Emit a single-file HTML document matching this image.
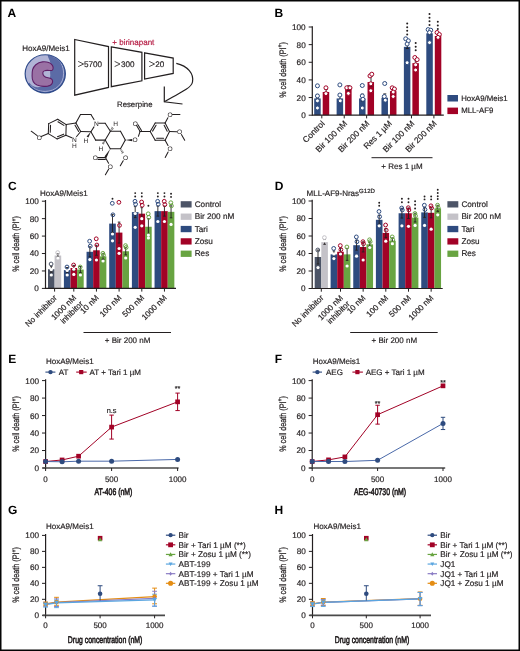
<!DOCTYPE html>
<html><head><meta charset="utf-8"><title>Figure</title>
<style>
html,body{margin:0;padding:0;background:#fff;width:520px;height:651px;overflow:hidden}
svg{display:block;will-change:transform}
text{font-family:"Liberation Sans",sans-serif;text-rendering:geometricPrecision}
</style></head><body>
<svg width="520" height="651" viewBox="0 0 520 651">
<rect x="0" y="0" width="520" height="651" fill="#fff"/>
<text x="7.6" y="16.5" font-size="12" text-anchor="start" fill="#000" font-weight="bold" >A</text>
<text x="22.2" y="51.3" font-size="8" text-anchor="start" fill="#231f20" font-weight="normal" stroke="#231f20" stroke-width="0.18" >HoxA9/Meis1</text>
<defs><clipPath id="cellclip"><ellipse cx="45.25" cy="73.8" rx="20.1" ry="19.05"/></clipPath></defs>
<g>
<ellipse cx="45.25" cy="73.8" rx="20.1" ry="19.05" fill="#b1b4d6"/>
<path clip-path="url(#cellclip)" d="M46.5,50 L48.1,56.9 C49.5,60 50.5,62 50.5,64 C50,68 50,72 50.3,75.5 C50,80 46,86.5 38,87.2 C34,87.5 31,85.5 29.2,82.6 L18,96 L75,96 L75,50 Z" fill="#5b6ba6"/>
<path clip-path="url(#cellclip)" d="M53,56.4 C60.5,59.5 63.6,66 63.6,73.8 C63.6,84 55.5,91.4 45.2,91.4 C38.5,91.4 33.5,89 30.5,85.2" fill="none" stroke="#c9cde9" stroke-width="0.7"/>
<ellipse cx="45.25" cy="73.8" rx="20.1" ry="19.05" fill="none" stroke="#2e4a8a" stroke-width="1.2"/>
<path d="M32.6,69.7 C33.5,66.5 37,62.3 42.4,61.9 C46,61.6 50,62.5 52,64.8 C53.5,66.5 53.5,69.5 52.2,70.2 C51,70.8 49.5,70.5 48,70.4 C45,70.2 42.8,71 42.8,73 C42.8,75.5 45,77.3 48,77.8 C50.5,78.2 52.5,79.2 52.6,81.2 C52.7,83.5 51,85.5 47.7,86.1 C44,86.6 40,86.3 37,85 C33.5,83.3 32,79.5 32.1,75.9 C32.1,73.5 32.2,71.2 32.6,69.7 Z" fill="#9a71a4" stroke="#5f1f67" stroke-width="1.1"/>
</g>
<g fill="none" stroke="#231f20" stroke-width="1.2">
<path d="M74.7,39.5 L108.5,46.6 L108.5,87.4 L74.7,95.2 Z"/>
<path d="M111.3,46.9 L141.9,52.3 L141.9,80.8 L111.3,86.7 Z"/>
<path d="M144.6,52.8 L173.2,58.1 L173.2,73.4 L144.6,79.1 Z"/>
<path d="M176.3,63.4 C188,66 194,74 192.5,82 C191.5,87 186,90 164.3,101.8"/>
<path d="M164.3,86.6 L164.3,101.8 L182.5,104"/>
</g>
<path d="M78.2,61.4 L83.6,64.0 L78.2,66.6" fill="none" stroke="#231f20" stroke-width="0.8"/>
<text x="84" y="66.9" font-size="8.1" text-anchor="start" fill="#231f20" font-weight="normal" stroke="#231f20" stroke-width="0.18" >5700</text>
<path d="M114.6,61.4 L120,64.0 L114.6,66.6" fill="none" stroke="#231f20" stroke-width="0.8"/>
<text x="120.9" y="66.9" font-size="8.1" text-anchor="start" fill="#231f20" font-weight="normal" stroke="#231f20" stroke-width="0.18" >300</text>
<path d="M149.2,61.4 L154.6,64.0 L149.2,66.6" fill="none" stroke="#231f20" stroke-width="0.8"/>
<text x="155.2" y="66.9" font-size="8.1" text-anchor="start" fill="#231f20" font-weight="normal" stroke="#231f20" stroke-width="0.18" >20</text>
<text x="112.3" y="45.2" font-size="8" text-anchor="start" fill="#b51a42" font-weight="normal" stroke="#b51a42" stroke-width="0.18" >+ birinapant</text>
<text x="117" y="106.9" font-size="7.8" text-anchor="start" fill="#231f20" font-weight="normal" stroke="#231f20" stroke-width="0.18" >Reserpine</text>
<g stroke="#231f20" stroke-width="1.05" stroke-linecap="round" fill="none"><line x1="57.7" y1="119.3" x2="66.2" y2="124.6"/><line x1="66.2" y1="124.6" x2="65.9" y2="135.3"/><line x1="65.9" y1="135.3" x2="57" y2="138.9"/><line x1="57" y1="138.9" x2="48.3" y2="133.6"/><line x1="48.3" y1="133.6" x2="48.7" y2="123.6"/><line x1="48.7" y1="123.6" x2="57.7" y2="119.3"/><line x1="57.94" y1="121.69" x2="63.89" y2="125.4"/><line x1="63.69" y1="134.15" x2="57.46" y2="136.67"/><line x1="50.26" y1="132.21" x2="50.54" y2="125.21"/><line x1="48.3" y1="133.6" x2="41.2" y2="136.4"/><line x1="37.2" y1="135.6" x2="31.2" y2="131.2"/><line x1="66.2" y1="124.6" x2="75.9" y2="123.1"/><line x1="75.9" y1="123.1" x2="80.7" y2="131.5"/><line x1="80.7" y1="131.5" x2="76.6" y2="136.5"/><line x1="65.9" y1="135.3" x2="71.8" y2="137.7"/><line x1="75" y1="125.14" x2="78.65" y2="131.52"/><line x1="75.9" y1="123.1" x2="80.5" y2="114.5"/><line x1="80.5" y1="114.5" x2="90.9" y2="114.5"/><line x1="90.9" y1="114.5" x2="94" y2="119.6"/><line x1="94" y1="126.9" x2="90.9" y2="131.7"/><line x1="90.9" y1="131.7" x2="80.7" y2="131.5"/><line x1="98.8" y1="123.2" x2="105.2" y2="123.2"/><line x1="105.2" y1="123.2" x2="110.4" y2="131.2"/><line x1="110.4" y1="131.2" x2="105.2" y2="140.1"/><line x1="105.2" y1="140.1" x2="95.6" y2="140.1"/><line x1="95.6" y1="140.1" x2="90.9" y2="131.7"/><line x1="110.4" y1="131.2" x2="120.5" y2="131.2"/><line x1="120.5" y1="131.2" x2="125.3" y2="140.1"/><line x1="125.3" y1="140.1" x2="120.5" y2="148.8"/><line x1="120.5" y1="148.8" x2="110.3" y2="148.8"/><line x1="110.3" y1="148.8" x2="105.2" y2="140.1"/><line x1="138.4" y1="136.3" x2="140.1" y2="131.4"/><line x1="140.1" y1="131.4" x2="136.6" y2="125.5"/><line x1="141.48" y1="130.58" x2="137.98" y2="124.68"/><line x1="140.1" y1="131.4" x2="150.2" y2="131.4"/><line x1="150.2" y1="131.4" x2="155.2" y2="123"/><line x1="155.2" y1="123" x2="165.1" y2="123"/><line x1="165.1" y1="123" x2="169.5" y2="131.6"/><line x1="169.5" y1="131.6" x2="165.1" y2="140.2"/><line x1="165.1" y1="140.2" x2="155.2" y2="140.2"/><line x1="155.2" y1="140.2" x2="150.2" y2="131.4"/><line x1="152.58" y1="131.12" x2="156.08" y2="125.24"/><line x1="164.12" y1="125.25" x2="167.2" y2="131.27"/><line x1="163.58" y1="138.3" x2="156.65" y2="138.3"/><line x1="165.1" y1="123" x2="167.9" y2="117.8"/><line x1="172.5" y1="114.5" x2="179.9" y2="114.5"/><line x1="169.5" y1="131.6" x2="176.8" y2="131.8"/><line x1="181.4" y1="134.6" x2="184.7" y2="140.3"/><line x1="165.1" y1="140.2" x2="168" y2="145.5"/><line x1="168.1" y1="152" x2="165.2" y2="157.4"/><line x1="105.4" y1="157.6" x2="97.9" y2="157.6"/><line x1="105.4" y1="159.4" x2="97.9" y2="159.4"/><line x1="105.4" y1="157.6" x2="108.6" y2="163.2"/><line x1="108.6" y1="169.3" x2="105.4" y2="174.7"/><line x1="123.2" y1="160.7" x2="120.3" y2="165.8"/></g>
<g fill="#231f20">
<path d="M90.9,131.7 L86.6,136.6 L88.4,137.6 Z"/>
<path d="M125.3,140.1 L132.2,139.0 L132.2,141.2 Z"/>
<path d="M110.3,148.8 L104.5,156.6 L106.4,157.9 Z"/>
</g>
<g stroke="#231f20" stroke-width="0.8">
<line x1="105.02" y1="141.58" x2="103.93" y2="140.87"/>
<line x1="104.51" y1="142.84" x2="102.99" y2="141.86"/>
<line x1="103.99" y1="144.1" x2="102.06" y2="142.85"/>
<line x1="110.59" y1="129.76" x2="111.66" y2="130.49"/>
<line x1="111.1" y1="128.55" x2="112.6" y2="129.55"/>
<line x1="111.62" y1="127.33" x2="113.53" y2="128.62"/>
<line x1="121.79" y1="149.78" x2="120.66" y2="150.42"/>
<line x1="122.74" y1="150.96" x2="121.16" y2="151.84"/>
<line x1="123.68" y1="152.14" x2="121.67" y2="153.26"/>
</g>
<text x="39.4" y="139.68" font-size="6.6" text-anchor="middle" fill="#231f20">O</text><text x="74.4" y="141.78" font-size="6.6" text-anchor="middle" fill="#231f20">N</text><text x="74.4" y="147.98" font-size="6.6" text-anchor="middle" fill="#231f20">H</text><text x="96.4" y="125.68" font-size="6.6" text-anchor="middle" fill="#231f20">N</text><text x="135" y="142.48" font-size="6.6" text-anchor="middle" fill="#231f20">O</text><text x="135.3" y="125.78" font-size="6.6" text-anchor="middle" fill="#231f20">O</text><text x="170" y="116.98" font-size="6.6" text-anchor="middle" fill="#231f20">O</text><text x="179.6" y="134.28" font-size="6.6" text-anchor="middle" fill="#231f20">O</text><text x="170" y="151.38" font-size="6.6" text-anchor="middle" fill="#231f20">O</text><text x="95.4" y="160.18" font-size="6.6" text-anchor="middle" fill="#231f20">O</text><text x="110.4" y="168.68" font-size="6.6" text-anchor="middle" fill="#231f20">O</text><text x="125.5" y="160.08" font-size="6.6" text-anchor="middle" fill="#231f20">O</text><text x="86" y="143.38" font-size="6.6" text-anchor="middle" fill="#231f20">H</text><text x="100.8" y="151.08" font-size="6.6" text-anchor="middle" fill="#231f20">H</text><text x="115.7" y="125.68" font-size="6.6" text-anchor="middle" fill="#231f20">H</text>
<text x="274.6" y="16.6" font-size="12" text-anchor="start" fill="#000" font-weight="bold" >B</text>
<text transform="translate(285.6,70) rotate(-90) scale(0.765,1)" font-size="9.4" text-anchor="middle" fill="#231f20" stroke="#231f20" stroke-width="0.25">% cell death (PI<tspan font-size="6.6" dy="-3.2">+</tspan><tspan dy="3.2">)</tspan></text>
<rect x="314.2" y="98.44" width="6.5" height="16.76" fill="#2e4b7f" />
<rect x="322.7" y="92" width="6.5" height="23.2" fill="#a20226" />
<line x1="321.8" y1="115.2" x2="321.8" y2="118.4" stroke="#231f20" stroke-width="1" />
<text transform="translate(325.2,124.1) rotate(-45)" font-size="8.4" text-anchor="end" fill="#231f20" stroke="#231f20" stroke-width="0.18">Control</text>
<rect x="336.62" y="98.44" width="6.5" height="16.76" fill="#2e4b7f" />
<rect x="345.12" y="86.62" width="6.5" height="28.58" fill="#a20226" />
<line x1="344.22" y1="115.2" x2="344.22" y2="118.4" stroke="#231f20" stroke-width="1" />
<text transform="translate(347.62,124.1) rotate(-45)" font-size="8.4" text-anchor="end" fill="#231f20" stroke="#231f20" stroke-width="0.18">Bir 100 nM</text>
<rect x="359.04" y="98.44" width="6.5" height="16.76" fill="#2e4b7f" />
<rect x="367.54" y="82.04" width="6.5" height="33.16" fill="#a20226" />
<line x1="366.64" y1="115.2" x2="366.64" y2="118.4" stroke="#231f20" stroke-width="1" />
<text transform="translate(370.04,124.1) rotate(-45)" font-size="8.4" text-anchor="end" fill="#231f20" stroke="#231f20" stroke-width="0.18">Bir 200 nM</text>
<rect x="381.46" y="97.74" width="6.5" height="17.46" fill="#2e4b7f" />
<rect x="389.96" y="91.12" width="6.5" height="24.08" fill="#a20226" />
<line x1="389.06" y1="115.2" x2="389.06" y2="118.4" stroke="#231f20" stroke-width="1" />
<text transform="translate(392.46,124.1) rotate(-45)" font-size="8.4" text-anchor="end" fill="#231f20" stroke="#231f20" stroke-width="0.18">Res 1 µM</text>
<rect x="403.88" y="46.84" width="6.5" height="68.36" fill="#2e4b7f" />
<rect x="412.38" y="63.16" width="6.5" height="52.04" fill="#a20226" />
<line x1="411.48" y1="115.2" x2="411.48" y2="118.4" stroke="#231f20" stroke-width="1" />
<text transform="translate(414.88,124.1) rotate(-45)" font-size="8.4" text-anchor="end" fill="#231f20" stroke="#231f20" stroke-width="0.18">Bir 100 nM</text>
<rect x="426.3" y="33.35" width="6.5" height="81.85" fill="#2e4b7f" />
<rect x="434.8" y="36" width="6.5" height="79.2" fill="#a20226" />
<line x1="433.9" y1="115.2" x2="433.9" y2="118.4" stroke="#231f20" stroke-width="1" />
<text transform="translate(437.3,124.1) rotate(-45)" font-size="8.4" text-anchor="end" fill="#231f20" stroke="#231f20" stroke-width="0.18">Bir 200 nM</text>
<line x1="317.45" y1="94.5" x2="317.45" y2="99" stroke="#231f20" stroke-width="0.9" />
<line x1="315.95" y1="94.5" x2="318.95" y2="94.5" stroke="#231f20" stroke-width="0.9" />
<line x1="315.95" y1="99" x2="318.95" y2="99" stroke="#231f20" stroke-width="0.9" />
<line x1="326.15" y1="89.5" x2="326.15" y2="94.5" stroke="#231f20" stroke-width="0.9" />
<line x1="324.65" y1="89.5" x2="327.65" y2="89.5" stroke="#231f20" stroke-width="0.9" />
<line x1="324.65" y1="94.5" x2="327.65" y2="94.5" stroke="#231f20" stroke-width="0.9" />
<line x1="340" y1="93.9" x2="340" y2="101" stroke="#231f20" stroke-width="0.9" />
<line x1="338.5" y1="93.9" x2="341.5" y2="93.9" stroke="#231f20" stroke-width="0.9" />
<line x1="338.5" y1="101" x2="341.5" y2="101" stroke="#231f20" stroke-width="0.9" />
<line x1="348.6" y1="85.8" x2="348.6" y2="90.3" stroke="#231f20" stroke-width="0.9" />
<line x1="347.1" y1="85.8" x2="350.1" y2="85.8" stroke="#231f20" stroke-width="0.9" />
<line x1="347.1" y1="90.3" x2="350.1" y2="90.3" stroke="#231f20" stroke-width="0.9" />
<line x1="362.4" y1="94.2" x2="362.4" y2="101" stroke="#231f20" stroke-width="0.9" />
<line x1="360.9" y1="94.2" x2="363.9" y2="94.2" stroke="#231f20" stroke-width="0.9" />
<line x1="360.9" y1="101" x2="363.9" y2="101" stroke="#231f20" stroke-width="0.9" />
<line x1="371" y1="76.5" x2="371" y2="86" stroke="#231f20" stroke-width="0.9" />
<line x1="369.5" y1="76.5" x2="372.5" y2="76.5" stroke="#231f20" stroke-width="0.9" />
<line x1="369.5" y1="86" x2="372.5" y2="86" stroke="#231f20" stroke-width="0.9" />
<line x1="384.8" y1="93.9" x2="384.8" y2="101" stroke="#231f20" stroke-width="0.9" />
<line x1="383.3" y1="93.9" x2="386.3" y2="93.9" stroke="#231f20" stroke-width="0.9" />
<line x1="383.3" y1="101" x2="386.3" y2="101" stroke="#231f20" stroke-width="0.9" />
<line x1="393.4" y1="89.5" x2="393.4" y2="93.3" stroke="#231f20" stroke-width="0.9" />
<line x1="391.9" y1="89.5" x2="394.9" y2="89.5" stroke="#231f20" stroke-width="0.9" />
<line x1="391.9" y1="93.3" x2="394.9" y2="93.3" stroke="#231f20" stroke-width="0.9" />
<line x1="407.3" y1="43.5" x2="407.3" y2="48.5" stroke="#231f20" stroke-width="0.9" />
<line x1="405.8" y1="43.5" x2="408.8" y2="43.5" stroke="#231f20" stroke-width="0.9" />
<line x1="405.8" y1="48.5" x2="408.8" y2="48.5" stroke="#231f20" stroke-width="0.9" />
<line x1="415.8" y1="60.8" x2="415.8" y2="64.5" stroke="#231f20" stroke-width="0.9" />
<line x1="414.3" y1="60.8" x2="417.3" y2="60.8" stroke="#231f20" stroke-width="0.9" />
<line x1="414.3" y1="64.5" x2="417.3" y2="64.5" stroke="#231f20" stroke-width="0.9" />
<line x1="429.7" y1="31" x2="429.7" y2="34.5" stroke="#231f20" stroke-width="0.9" />
<line x1="428.2" y1="31" x2="431.2" y2="31" stroke="#231f20" stroke-width="0.9" />
<line x1="428.2" y1="34.5" x2="431.2" y2="34.5" stroke="#231f20" stroke-width="0.9" />
<line x1="438.2" y1="34" x2="438.2" y2="37" stroke="#231f20" stroke-width="0.9" />
<line x1="436.7" y1="34" x2="439.7" y2="34" stroke="#231f20" stroke-width="0.9" />
<line x1="436.7" y1="37" x2="439.7" y2="37" stroke="#231f20" stroke-width="0.9" />
<circle cx="317.45" cy="85.8" r="2" fill="#fff" stroke="#2e4b7f" stroke-width="1.0"/>
<circle cx="317.45" cy="95.9" r="2" fill="#fff" stroke="#2e4b7f" stroke-width="1.0"/>
<circle cx="317.45" cy="100.8" r="2" fill="#fff" stroke="#2e4b7f" stroke-width="1.0"/>
<circle cx="317.45" cy="108" r="2" fill="#fff" stroke="#2e4b7f" stroke-width="1.0"/>
<circle cx="325.95" cy="87.8" r="2" fill="#fff" stroke="#a20226" stroke-width="1.0"/>
<circle cx="325.95" cy="93.6" r="2" fill="#fff" stroke="#a20226" stroke-width="1.0"/>
<circle cx="339.87" cy="84.9" r="2" fill="#fff" stroke="#2e4b7f" stroke-width="1.0"/>
<circle cx="339.87" cy="95" r="2" fill="#fff" stroke="#2e4b7f" stroke-width="1.0"/>
<circle cx="340.27" cy="100.8" r="2" fill="#fff" stroke="#2e4b7f" stroke-width="1.0"/>
<circle cx="346.77" cy="87.8" r="2" fill="#fff" stroke="#a20226" stroke-width="1.0"/>
<circle cx="349.97" cy="87.8" r="2" fill="#fff" stroke="#a20226" stroke-width="1.0"/>
<circle cx="348.37" cy="93.4" r="2" fill="#fff" stroke="#a20226" stroke-width="1.0"/>
<circle cx="362.29" cy="85.5" r="2" fill="#fff" stroke="#2e4b7f" stroke-width="1.0"/>
<circle cx="362.29" cy="95.9" r="2" fill="#fff" stroke="#2e4b7f" stroke-width="1.0"/>
<circle cx="362.89" cy="99.3" r="2" fill="#fff" stroke="#2e4b7f" stroke-width="1.0"/>
<circle cx="362.29" cy="108" r="2" fill="#fff" stroke="#2e4b7f" stroke-width="1.0"/>
<circle cx="369.99" cy="75.9" r="2" fill="#fff" stroke="#a20226" stroke-width="1.0"/>
<circle cx="371.79" cy="74.2" r="2" fill="#fff" stroke="#a20226" stroke-width="1.0"/>
<circle cx="370.79" cy="83.8" r="2" fill="#fff" stroke="#a20226" stroke-width="1.0"/>
<circle cx="370.79" cy="90.7" r="2" fill="#fff" stroke="#a20226" stroke-width="1.0"/>
<circle cx="384.71" cy="83.5" r="2" fill="#fff" stroke="#2e4b7f" stroke-width="1.0"/>
<circle cx="384.31" cy="96.5" r="2" fill="#fff" stroke="#2e4b7f" stroke-width="1.0"/>
<circle cx="385.31" cy="100.2" r="2" fill="#fff" stroke="#2e4b7f" stroke-width="1.0"/>
<circle cx="392.21" cy="87.8" r="2" fill="#fff" stroke="#a20226" stroke-width="1.0"/>
<circle cx="394.41" cy="89" r="2" fill="#fff" stroke="#a20226" stroke-width="1.0"/>
<circle cx="393.21" cy="92.1" r="2" fill="#fff" stroke="#a20226" stroke-width="1.0"/>
<circle cx="393.21" cy="96.5" r="2" fill="#fff" stroke="#a20226" stroke-width="1.0"/>
<circle cx="405.73" cy="38.8" r="2" fill="#fff" stroke="#2e4b7f" stroke-width="1.0"/>
<circle cx="408.33" cy="40.8" r="2" fill="#fff" stroke="#2e4b7f" stroke-width="1.0"/>
<circle cx="407.13" cy="44" r="2" fill="#fff" stroke="#2e4b7f" stroke-width="1.0"/>
<circle cx="407.13" cy="62.7" r="2" fill="#fff" stroke="#2e4b7f" stroke-width="1.0"/>
<circle cx="414.83" cy="57.5" r="2" fill="#fff" stroke="#a20226" stroke-width="1.0"/>
<circle cx="417.13" cy="59.6" r="2" fill="#fff" stroke="#a20226" stroke-width="1.0"/>
<circle cx="415.63" cy="64.8" r="2" fill="#fff" stroke="#a20226" stroke-width="1.0"/>
<circle cx="415.63" cy="70" r="2" fill="#fff" stroke="#a20226" stroke-width="1.0"/>
<circle cx="428.15" cy="29.6" r="2" fill="#fff" stroke="#2e4b7f" stroke-width="1.0"/>
<circle cx="430.75" cy="30.2" r="2" fill="#fff" stroke="#2e4b7f" stroke-width="1.0"/>
<circle cx="429.55" cy="32.5" r="2" fill="#fff" stroke="#2e4b7f" stroke-width="1.0"/>
<circle cx="429.55" cy="42.6" r="2" fill="#fff" stroke="#2e4b7f" stroke-width="1.0"/>
<circle cx="437.05" cy="32.5" r="2" fill="#fff" stroke="#a20226" stroke-width="1.0"/>
<circle cx="439.35" cy="34.5" r="2" fill="#fff" stroke="#a20226" stroke-width="1.0"/>
<circle cx="438.05" cy="37.4" r="2" fill="#fff" stroke="#a20226" stroke-width="1.0"/>
<line x1="312.3" y1="26.2" x2="312.3" y2="115.8" stroke="#231f20" stroke-width="1.2" />
<line x1="308.7" y1="115.2" x2="312.3" y2="115.2" stroke="#231f20" stroke-width="1" />
<text x="305.7" y="118.15" font-size="8.2" text-anchor="end" fill="#231f20" font-weight="normal" stroke="#231f20" stroke-width="0.18" >0</text>
<line x1="308.7" y1="97.56" x2="312.3" y2="97.56" stroke="#231f20" stroke-width="1" />
<text x="305.7" y="100.51" font-size="8.2" text-anchor="end" fill="#231f20" font-weight="normal" stroke="#231f20" stroke-width="0.18" >20</text>
<line x1="308.7" y1="79.92" x2="312.3" y2="79.92" stroke="#231f20" stroke-width="1" />
<text x="305.7" y="82.87" font-size="8.2" text-anchor="end" fill="#231f20" font-weight="normal" stroke="#231f20" stroke-width="0.18" >40</text>
<line x1="308.7" y1="62.28" x2="312.3" y2="62.28" stroke="#231f20" stroke-width="1" />
<text x="305.7" y="65.23" font-size="8.2" text-anchor="end" fill="#231f20" font-weight="normal" stroke="#231f20" stroke-width="0.18" >60</text>
<line x1="308.7" y1="44.64" x2="312.3" y2="44.64" stroke="#231f20" stroke-width="1" />
<text x="305.7" y="47.59" font-size="8.2" text-anchor="end" fill="#231f20" font-weight="normal" stroke="#231f20" stroke-width="0.18" >80</text>
<line x1="308.7" y1="27" x2="312.3" y2="27" stroke="#231f20" stroke-width="1" />
<text x="305.7" y="29.95" font-size="8.2" text-anchor="end" fill="#231f20" font-weight="normal" stroke="#231f20" stroke-width="0.18" >100</text>
<line x1="312.3" y1="115.2" x2="443.8" y2="115.2" stroke="#231f20" stroke-width="1.2" />
<circle cx="407.2" cy="23.5" r="1" fill="#231f20" stroke="none" stroke-width="0"/>
<circle cx="407.2" cy="27.15" r="1" fill="#231f20" stroke="none" stroke-width="0"/>
<circle cx="407.2" cy="30.8" r="1" fill="#231f20" stroke="none" stroke-width="0"/>
<circle cx="407.2" cy="34.45" r="1" fill="#231f20" stroke="none" stroke-width="0"/>
<circle cx="415.7" cy="43" r="1" fill="#231f20" stroke="none" stroke-width="0"/>
<circle cx="415.7" cy="46.65" r="1" fill="#231f20" stroke="none" stroke-width="0"/>
<circle cx="415.7" cy="50.3" r="1" fill="#231f20" stroke="none" stroke-width="0"/>
<circle cx="429.5" cy="14" r="1" fill="#231f20" stroke="none" stroke-width="0"/>
<circle cx="429.5" cy="17.65" r="1" fill="#231f20" stroke="none" stroke-width="0"/>
<circle cx="429.5" cy="21.3" r="1" fill="#231f20" stroke="none" stroke-width="0"/>
<circle cx="429.5" cy="24.95" r="1" fill="#231f20" stroke="none" stroke-width="0"/>
<circle cx="437.8" cy="21.8" r="1" fill="#231f20" stroke="none" stroke-width="0"/>
<circle cx="437.8" cy="25.45" r="1" fill="#231f20" stroke="none" stroke-width="0"/>
<circle cx="437.8" cy="29.1" r="1" fill="#231f20" stroke="none" stroke-width="0"/>
<line x1="371.5" y1="157.7" x2="432.5" y2="157.7" stroke="#231f20" stroke-width="1" />
<text x="402" y="168.6" font-size="8" text-anchor="middle" fill="#231f20" font-weight="normal" stroke="#231f20" stroke-width="0.18" >+ Res 1 µM</text>
<rect x="447.4" y="95" width="10.6" height="6.5" fill="#2e4b7f" />
<rect x="447.4" y="107.6" width="10.6" height="6.5" fill="#a20226" />
<text x="461.2" y="100.9" font-size="7.8" text-anchor="start" fill="#231f20" font-weight="normal" stroke="#231f20" stroke-width="0.18" >HoxA9/Meis1</text>
<text x="461.2" y="113.3" font-size="7.8" text-anchor="start" fill="#231f20" font-weight="normal" stroke="#231f20" stroke-width="0.18" >MLL-AF9</text>
<text x="8" y="190" font-size="12" text-anchor="start" fill="#000" font-weight="bold" >C</text>
<text x="40" y="196" font-size="8" fill="#231f20" stroke="#231f20" stroke-width="0.18">HoxA9/Meis1</text>
<text transform="translate(19,244) rotate(-90) scale(0.765,1)" font-size="9.4" text-anchor="middle" fill="#231f20" stroke="#231f20" stroke-width="0.25">% cell death (PI<tspan font-size="6.6" dy="-3.2">+</tspan><tspan dy="3.2">)</tspan></text>
<rect x="48" y="269.22" width="6.6" height="19.18" fill="#4c5467" />
<rect x="54.6" y="255.53" width="6.6" height="32.87" fill="#c4c2c8" />
<line x1="54.6" y1="288.4" x2="54.6" y2="291.6" stroke="#231f20" stroke-width="1" />
<rect x="63.9" y="270.09" width="6.6" height="18.31" fill="#2e4b7f" />
<rect x="70.5" y="268" width="6.6" height="20.4" fill="#a20226" />
<rect x="77.1" y="269.56" width="6.6" height="18.84" fill="#68a441" />
<line x1="73.8" y1="288.4" x2="73.8" y2="291.6" stroke="#231f20" stroke-width="1" />
<rect x="86.55" y="251.78" width="6.6" height="36.62" fill="#2e4b7f" />
<rect x="93.15" y="250.29" width="6.6" height="38.11" fill="#a20226" />
<rect x="99.75" y="256.4" width="6.6" height="32" fill="#68a441" />
<line x1="96.45" y1="288.4" x2="96.45" y2="291.6" stroke="#231f20" stroke-width="1" />
<rect x="109.2" y="223.61" width="6.6" height="64.79" fill="#2e4b7f" />
<rect x="115.8" y="232.59" width="6.6" height="55.81" fill="#a20226" />
<rect x="122.4" y="251.25" width="6.6" height="37.15" fill="#68a441" />
<line x1="119.1" y1="288.4" x2="119.1" y2="291.6" stroke="#231f20" stroke-width="1" />
<rect x="131.9" y="212.1" width="6.6" height="76.3" fill="#2e4b7f" />
<rect x="138.5" y="213.67" width="6.6" height="74.73" fill="#a20226" />
<rect x="145.1" y="226.75" width="6.6" height="61.65" fill="#68a441" />
<line x1="141.8" y1="288.4" x2="141.8" y2="291.6" stroke="#231f20" stroke-width="1" />
<rect x="154.55" y="211.14" width="6.6" height="77.26" fill="#2e4b7f" />
<rect x="161.15" y="211.14" width="6.6" height="77.26" fill="#a20226" />
<rect x="167.75" y="211.84" width="6.6" height="76.56" fill="#68a441" />
<line x1="164.45" y1="288.4" x2="164.45" y2="291.6" stroke="#231f20" stroke-width="1" />
<line x1="51.3" y1="266.22" x2="51.3" y2="272.22" stroke="#231f20" stroke-width="0.9" />
<line x1="50" y1="266.22" x2="52.6" y2="266.22" stroke="#231f20" stroke-width="0.9" />
<line x1="50" y1="272.22" x2="52.6" y2="272.22" stroke="#231f20" stroke-width="0.9" />
<circle cx="51.3" cy="269.6" r="1.6" fill="#fff" stroke="none" stroke-width="0"/>
<circle cx="51.3" cy="275" r="1.6" fill="#fff" stroke="none" stroke-width="0"/>
<circle cx="51.1" cy="264" r="1.9" fill="none" stroke="#4c5467" stroke-width="1.0"/>
<line x1="57.9" y1="253.93" x2="57.9" y2="257.13" stroke="#231f20" stroke-width="0.9" />
<line x1="56.6" y1="253.93" x2="59.2" y2="253.93" stroke="#231f20" stroke-width="0.9" />
<line x1="56.6" y1="257.13" x2="59.2" y2="257.13" stroke="#231f20" stroke-width="0.9" />
<circle cx="57.9" cy="258" r="1.6" fill="#fff" stroke="none" stroke-width="0"/>
<circle cx="57.7" cy="252.6" r="1.9" fill="none" stroke="#c4c2c8" stroke-width="1.0"/>
<line x1="67.2" y1="267.49" x2="67.2" y2="272.69" stroke="#231f20" stroke-width="0.9" />
<line x1="65.9" y1="267.49" x2="68.5" y2="267.49" stroke="#231f20" stroke-width="0.9" />
<line x1="65.9" y1="272.69" x2="68.5" y2="272.69" stroke="#231f20" stroke-width="0.9" />
<circle cx="67.2" cy="270.5" r="1.6" fill="#fff" stroke="none" stroke-width="0"/>
<circle cx="67.2" cy="275" r="1.6" fill="#fff" stroke="none" stroke-width="0"/>
<circle cx="67" cy="267" r="1.9" fill="none" stroke="#2e4b7f" stroke-width="1.0"/>
<line x1="73.8" y1="265.4" x2="73.8" y2="270.6" stroke="#231f20" stroke-width="0.9" />
<line x1="72.5" y1="265.4" x2="75.1" y2="265.4" stroke="#231f20" stroke-width="0.9" />
<line x1="72.5" y1="270.6" x2="75.1" y2="270.6" stroke="#231f20" stroke-width="0.9" />
<circle cx="73.8" cy="269.2" r="1.6" fill="#fff" stroke="none" stroke-width="0"/>
<circle cx="73.8" cy="274.4" r="1.6" fill="#fff" stroke="none" stroke-width="0"/>
<circle cx="73.6" cy="265" r="1.9" fill="none" stroke="#a20226" stroke-width="1.0"/>
<line x1="80.4" y1="266.56" x2="80.4" y2="272.56" stroke="#231f20" stroke-width="0.9" />
<line x1="79.1" y1="266.56" x2="81.7" y2="266.56" stroke="#231f20" stroke-width="0.9" />
<line x1="79.1" y1="272.56" x2="81.7" y2="272.56" stroke="#231f20" stroke-width="0.9" />
<circle cx="80.4" cy="275" r="1.6" fill="#fff" stroke="none" stroke-width="0"/>
<circle cx="80.2" cy="267" r="1.9" fill="none" stroke="#68a441" stroke-width="1.0"/>
<line x1="89.85" y1="246.78" x2="89.85" y2="256.78" stroke="#231f20" stroke-width="0.9" />
<line x1="88.55" y1="246.78" x2="91.15" y2="246.78" stroke="#231f20" stroke-width="0.9" />
<line x1="88.55" y1="256.78" x2="91.15" y2="256.78" stroke="#231f20" stroke-width="0.9" />
<circle cx="89.85" cy="259.6" r="1.6" fill="#fff" stroke="none" stroke-width="0"/>
<circle cx="89.65" cy="241.2" r="1.9" fill="none" stroke="#2e4b7f" stroke-width="1.0"/>
<circle cx="90.25" cy="246.2" r="1.9" fill="none" stroke="#2e4b7f" stroke-width="1.0"/>
<line x1="96.45" y1="245.29" x2="96.45" y2="255.29" stroke="#231f20" stroke-width="0.9" />
<line x1="95.15" y1="245.29" x2="97.75" y2="245.29" stroke="#231f20" stroke-width="0.9" />
<line x1="95.15" y1="255.29" x2="97.75" y2="255.29" stroke="#231f20" stroke-width="0.9" />
<circle cx="96.45" cy="260" r="1.6" fill="#fff" stroke="none" stroke-width="0"/>
<circle cx="96.25" cy="238.8" r="1.9" fill="none" stroke="#a20226" stroke-width="1.0"/>
<circle cx="96.85" cy="245" r="1.9" fill="none" stroke="#a20226" stroke-width="1.0"/>
<line x1="103.05" y1="253.4" x2="103.05" y2="259.4" stroke="#231f20" stroke-width="0.9" />
<line x1="101.75" y1="253.4" x2="104.35" y2="253.4" stroke="#231f20" stroke-width="0.9" />
<line x1="101.75" y1="259.4" x2="104.35" y2="259.4" stroke="#231f20" stroke-width="0.9" />
<circle cx="103.05" cy="261" r="1.6" fill="#fff" stroke="none" stroke-width="0"/>
<circle cx="102.85" cy="253.3" r="1.9" fill="none" stroke="#68a441" stroke-width="1.0"/>
<circle cx="103.45" cy="255.2" r="1.9" fill="none" stroke="#68a441" stroke-width="1.0"/>
<line x1="112.5" y1="214.61" x2="112.5" y2="232.61" stroke="#231f20" stroke-width="0.9" />
<line x1="111.2" y1="214.61" x2="113.8" y2="214.61" stroke="#231f20" stroke-width="0.9" />
<line x1="111.2" y1="232.61" x2="113.8" y2="232.61" stroke="#231f20" stroke-width="0.9" />
<circle cx="112.5" cy="234" r="1.6" fill="#fff" stroke="none" stroke-width="0"/>
<circle cx="112.5" cy="240.8" r="1.6" fill="#fff" stroke="none" stroke-width="0"/>
<circle cx="112.3" cy="203.3" r="1.9" fill="none" stroke="#2e4b7f" stroke-width="1.0"/>
<circle cx="112.9" cy="214.8" r="1.9" fill="none" stroke="#2e4b7f" stroke-width="1.0"/>
<line x1="119.1" y1="222.09" x2="119.1" y2="243.09" stroke="#231f20" stroke-width="0.9" />
<line x1="117.8" y1="222.09" x2="120.4" y2="222.09" stroke="#231f20" stroke-width="0.9" />
<line x1="117.8" y1="243.09" x2="120.4" y2="243.09" stroke="#231f20" stroke-width="0.9" />
<circle cx="119.1" cy="248.5" r="1.6" fill="#fff" stroke="none" stroke-width="0"/>
<circle cx="119.1" cy="253.3" r="1.6" fill="#fff" stroke="none" stroke-width="0"/>
<circle cx="118.9" cy="202.3" r="1.9" fill="none" stroke="#a20226" stroke-width="1.0"/>
<circle cx="119.5" cy="225.4" r="1.9" fill="none" stroke="#a20226" stroke-width="1.0"/>
<line x1="125.7" y1="247.65" x2="125.7" y2="254.85" stroke="#231f20" stroke-width="0.9" />
<line x1="124.4" y1="247.65" x2="127" y2="247.65" stroke="#231f20" stroke-width="0.9" />
<line x1="124.4" y1="254.85" x2="127" y2="254.85" stroke="#231f20" stroke-width="0.9" />
<circle cx="125.7" cy="258" r="1.6" fill="#fff" stroke="none" stroke-width="0"/>
<circle cx="125.5" cy="245.6" r="1.9" fill="none" stroke="#68a441" stroke-width="1.0"/>
<circle cx="126.1" cy="247.5" r="1.9" fill="none" stroke="#68a441" stroke-width="1.0"/>
<line x1="135.2" y1="206.6" x2="135.2" y2="217.6" stroke="#231f20" stroke-width="0.9" />
<line x1="133.9" y1="206.6" x2="136.5" y2="206.6" stroke="#231f20" stroke-width="0.9" />
<line x1="133.9" y1="217.6" x2="136.5" y2="217.6" stroke="#231f20" stroke-width="0.9" />
<circle cx="135.2" cy="213.5" r="1.6" fill="#fff" stroke="none" stroke-width="0"/>
<circle cx="135.2" cy="227.3" r="1.6" fill="#fff" stroke="none" stroke-width="0"/>
<circle cx="135" cy="201.3" r="1.9" fill="none" stroke="#2e4b7f" stroke-width="1.0"/>
<circle cx="135.6" cy="204.2" r="1.9" fill="none" stroke="#2e4b7f" stroke-width="1.0"/>
<line x1="141.8" y1="207.67" x2="141.8" y2="219.67" stroke="#231f20" stroke-width="0.9" />
<line x1="140.5" y1="207.67" x2="143.1" y2="207.67" stroke="#231f20" stroke-width="0.9" />
<line x1="140.5" y1="219.67" x2="143.1" y2="219.67" stroke="#231f20" stroke-width="0.9" />
<circle cx="141.8" cy="218.7" r="1.6" fill="#fff" stroke="none" stroke-width="0"/>
<circle cx="141.8" cy="225.8" r="1.6" fill="#fff" stroke="none" stroke-width="0"/>
<circle cx="141.6" cy="202" r="1.9" fill="none" stroke="#a20226" stroke-width="1.0"/>
<circle cx="142.2" cy="205.2" r="1.9" fill="none" stroke="#a20226" stroke-width="1.0"/>
<line x1="148.4" y1="218.75" x2="148.4" y2="234.75" stroke="#231f20" stroke-width="0.9" />
<line x1="147.1" y1="218.75" x2="149.7" y2="218.75" stroke="#231f20" stroke-width="0.9" />
<line x1="147.1" y1="234.75" x2="149.7" y2="234.75" stroke="#231f20" stroke-width="0.9" />
<circle cx="148.4" cy="235" r="1.6" fill="#fff" stroke="none" stroke-width="0"/>
<circle cx="148.4" cy="237.9" r="1.6" fill="#fff" stroke="none" stroke-width="0"/>
<circle cx="148.2" cy="213.8" r="1.9" fill="none" stroke="#68a441" stroke-width="1.0"/>
<circle cx="148.8" cy="217.3" r="1.9" fill="none" stroke="#68a441" stroke-width="1.0"/>
<line x1="157.85" y1="206.14" x2="157.85" y2="216.14" stroke="#231f20" stroke-width="0.9" />
<line x1="156.55" y1="206.14" x2="159.15" y2="206.14" stroke="#231f20" stroke-width="0.9" />
<line x1="156.55" y1="216.14" x2="159.15" y2="216.14" stroke="#231f20" stroke-width="0.9" />
<circle cx="157.85" cy="221.5" r="1.6" fill="#fff" stroke="none" stroke-width="0"/>
<circle cx="157.65" cy="201.3" r="1.9" fill="none" stroke="#2e4b7f" stroke-width="1.0"/>
<circle cx="158.25" cy="204.2" r="1.9" fill="none" stroke="#2e4b7f" stroke-width="1.0"/>
<line x1="164.45" y1="206.14" x2="164.45" y2="216.14" stroke="#231f20" stroke-width="0.9" />
<line x1="163.15" y1="206.14" x2="165.75" y2="206.14" stroke="#231f20" stroke-width="0.9" />
<line x1="163.15" y1="216.14" x2="165.75" y2="216.14" stroke="#231f20" stroke-width="0.9" />
<circle cx="164.45" cy="221.5" r="1.6" fill="#fff" stroke="none" stroke-width="0"/>
<circle cx="164.25" cy="201.3" r="1.9" fill="none" stroke="#a20226" stroke-width="1.0"/>
<circle cx="164.85" cy="204.6" r="1.9" fill="none" stroke="#a20226" stroke-width="1.0"/>
<line x1="171.05" y1="205.84" x2="171.05" y2="217.84" stroke="#231f20" stroke-width="0.9" />
<line x1="169.75" y1="205.84" x2="172.35" y2="205.84" stroke="#231f20" stroke-width="0.9" />
<line x1="169.75" y1="217.84" x2="172.35" y2="217.84" stroke="#231f20" stroke-width="0.9" />
<circle cx="171.05" cy="224.4" r="1.6" fill="#fff" stroke="none" stroke-width="0"/>
<circle cx="170.85" cy="202.7" r="1.9" fill="none" stroke="#68a441" stroke-width="1.0"/>
<circle cx="171.45" cy="205.8" r="1.9" fill="none" stroke="#68a441" stroke-width="1.0"/>
<circle cx="112.5" cy="198.8" r="0.95" fill="#231f20" stroke="none" stroke-width="0"/>
<circle cx="135.2" cy="193.1" r="0.95" fill="#231f20" stroke="none" stroke-width="0"/>
<circle cx="135.2" cy="196.5" r="0.95" fill="#231f20" stroke="none" stroke-width="0"/>
<circle cx="141.8" cy="193.1" r="0.95" fill="#231f20" stroke="none" stroke-width="0"/>
<circle cx="141.8" cy="196.5" r="0.95" fill="#231f20" stroke="none" stroke-width="0"/>
<circle cx="148.4" cy="205.8" r="0.95" fill="#231f20" stroke="none" stroke-width="0"/>
<circle cx="157.85" cy="193.1" r="0.95" fill="#231f20" stroke="none" stroke-width="0"/>
<circle cx="157.85" cy="196.5" r="0.95" fill="#231f20" stroke="none" stroke-width="0"/>
<circle cx="164.45" cy="193.1" r="0.95" fill="#231f20" stroke="none" stroke-width="0"/>
<circle cx="164.45" cy="196.5" r="0.95" fill="#231f20" stroke="none" stroke-width="0"/>
<circle cx="171.05" cy="193.7" r="0.95" fill="#231f20" stroke="none" stroke-width="0"/>
<circle cx="171.05" cy="196.9" r="0.95" fill="#231f20" stroke="none" stroke-width="0"/>
<line x1="45.5" y1="200" x2="45.5" y2="289" stroke="#231f20" stroke-width="1.2" />
<line x1="41.9" y1="288.4" x2="45.5" y2="288.4" stroke="#231f20" stroke-width="1" />
<text x="38.9" y="291.35" font-size="8.2" text-anchor="end" fill="#231f20" font-weight="normal" stroke="#231f20" stroke-width="0.18" >0</text>
<line x1="41.9" y1="270.96" x2="45.5" y2="270.96" stroke="#231f20" stroke-width="1" />
<text x="38.9" y="273.91" font-size="8.2" text-anchor="end" fill="#231f20" font-weight="normal" stroke="#231f20" stroke-width="0.18" >20</text>
<line x1="41.9" y1="253.52" x2="45.5" y2="253.52" stroke="#231f20" stroke-width="1" />
<text x="38.9" y="256.47" font-size="8.2" text-anchor="end" fill="#231f20" font-weight="normal" stroke="#231f20" stroke-width="0.18" >40</text>
<line x1="41.9" y1="236.08" x2="45.5" y2="236.08" stroke="#231f20" stroke-width="1" />
<text x="38.9" y="239.03" font-size="8.2" text-anchor="end" fill="#231f20" font-weight="normal" stroke="#231f20" stroke-width="0.18" >60</text>
<line x1="41.9" y1="218.64" x2="45.5" y2="218.64" stroke="#231f20" stroke-width="1" />
<text x="38.9" y="221.59" font-size="8.2" text-anchor="end" fill="#231f20" font-weight="normal" stroke="#231f20" stroke-width="0.18" >80</text>
<line x1="41.9" y1="201.2" x2="45.5" y2="201.2" stroke="#231f20" stroke-width="1" />
<text x="38.9" y="204.15" font-size="8.2" text-anchor="end" fill="#231f20" font-weight="normal" stroke="#231f20" stroke-width="0.18" >100</text>
<line x1="45.5" y1="288.4" x2="176" y2="288.4" stroke="#231f20" stroke-width="1.2" />
<text transform="translate(57.5,298.3) rotate(-45)" font-size="8.1" text-anchor="end" fill="#231f20" stroke="#231f20" stroke-width="0.18">No inhibitor</text>
<text transform="translate(76.7,298.3) rotate(-45)" font-size="8.1" text-anchor="end" fill="#231f20" stroke="#231f20" stroke-width="0.18">1000 nM</text>
<text transform="translate(99.35,298.3) rotate(-45)" font-size="8.1" text-anchor="end" fill="#231f20" stroke="#231f20" stroke-width="0.18">10 nM</text>
<text transform="translate(122,298.3) rotate(-45)" font-size="8.1" text-anchor="end" fill="#231f20" stroke="#231f20" stroke-width="0.18">100 nM</text>
<text transform="translate(144.7,298.3) rotate(-45)" font-size="8.1" text-anchor="end" fill="#231f20" stroke="#231f20" stroke-width="0.18">500 nM</text>
<text transform="translate(167.35,298.3) rotate(-45)" font-size="8.1" text-anchor="end" fill="#231f20" stroke="#231f20" stroke-width="0.18">1000 nM</text>
<text transform="translate(83.7,304.3) rotate(-45)" font-size="8.1" text-anchor="end" fill="#231f20" stroke="#231f20" stroke-width="0.18">inhibitor</text>
<line x1="83.5" y1="332.5" x2="171" y2="332.5" stroke="#231f20" stroke-width="1" />
<text x="127.6" y="342.7" font-size="8" text-anchor="middle" fill="#231f20" font-weight="normal" stroke="#231f20" stroke-width="0.18" >+ Bir 200 nM</text>
<rect x="180.7" y="201.2" width="10.9" height="6.3" fill="#4c5467" />
<text x="194.7" y="207" font-size="8.2" text-anchor="start" fill="#231f20" font-weight="normal" stroke="#231f20" stroke-width="0.18" >Control</text>
<rect x="180.7" y="213.55" width="10.9" height="6.3" fill="#c4c2c8" />
<text x="194.7" y="219.35" font-size="8.2" text-anchor="start" fill="#231f20" font-weight="normal" stroke="#231f20" stroke-width="0.18" >Bir 200 nM</text>
<rect x="180.7" y="225.9" width="10.9" height="6.3" fill="#2e4b7f" />
<text x="194.7" y="231.7" font-size="8.2" text-anchor="start" fill="#231f20" font-weight="normal" stroke="#231f20" stroke-width="0.18" >Tari</text>
<rect x="180.7" y="238.25" width="10.9" height="6.3" fill="#a20226" />
<text x="194.7" y="244.05" font-size="8.2" text-anchor="start" fill="#231f20" font-weight="normal" stroke="#231f20" stroke-width="0.18" >Zosu</text>
<rect x="180.7" y="250.6" width="10.9" height="6.3" fill="#68a441" />
<text x="194.7" y="256.4" font-size="8.2" text-anchor="start" fill="#231f20" font-weight="normal" stroke="#231f20" stroke-width="0.18" >Res</text>
<text x="274.7" y="190" font-size="12" text-anchor="start" fill="#000" font-weight="bold" >D</text>
<text x="306.6" y="196" font-size="8" fill="#231f20" stroke="#231f20" stroke-width="0.18">MLL-AF9-Nras<tspan font-size="6.1" dy="-3.3">G12D</tspan></text>
<text transform="translate(285.7,244) rotate(-90) scale(0.765,1)" font-size="9.4" text-anchor="middle" fill="#231f20" stroke="#231f20" stroke-width="0.25">% cell death (PI<tspan font-size="6.6" dy="-3.2">+</tspan><tspan dy="3.2">)</tspan></text>
<rect x="314.7" y="257" width="6.6" height="31.5" fill="#4c5467" />
<rect x="321.3" y="242.12" width="6.6" height="46.38" fill="#c4c2c8" />
<line x1="321.3" y1="288.5" x2="321.3" y2="291.7" stroke="#231f20" stroke-width="1" />
<rect x="330.6" y="254.38" width="6.6" height="34.12" fill="#2e4b7f" />
<rect x="337.2" y="251.75" width="6.6" height="36.75" fill="#a20226" />
<rect x="343.8" y="254.38" width="6.6" height="34.12" fill="#68a441" />
<line x1="340.5" y1="288.5" x2="340.5" y2="291.7" stroke="#231f20" stroke-width="1" />
<rect x="353.25" y="245.19" width="6.6" height="43.31" fill="#2e4b7f" />
<rect x="359.85" y="246.94" width="6.6" height="41.56" fill="#a20226" />
<rect x="366.45" y="244.31" width="6.6" height="44.19" fill="#68a441" />
<line x1="363.15" y1="288.5" x2="363.15" y2="291.7" stroke="#231f20" stroke-width="1" />
<rect x="375.9" y="219.81" width="6.6" height="68.69" fill="#2e4b7f" />
<rect x="382.5" y="232.94" width="6.6" height="55.56" fill="#a20226" />
<rect x="389.1" y="240.72" width="6.6" height="47.77" fill="#68a441" />
<line x1="385.8" y1="288.5" x2="385.8" y2="291.7" stroke="#231f20" stroke-width="1" />
<rect x="398.6" y="213.25" width="6.6" height="75.25" fill="#2e4b7f" />
<rect x="405.2" y="213.25" width="6.6" height="75.25" fill="#a20226" />
<rect x="411.8" y="217.62" width="6.6" height="70.88" fill="#68a441" />
<line x1="408.5" y1="288.5" x2="408.5" y2="291.7" stroke="#231f20" stroke-width="1" />
<rect x="421.25" y="212.38" width="6.6" height="76.12" fill="#2e4b7f" />
<rect x="427.85" y="212.81" width="6.6" height="75.69" fill="#a20226" />
<rect x="434.45" y="208.35" width="6.6" height="80.15" fill="#68a441" />
<line x1="431.15" y1="288.5" x2="431.15" y2="291.7" stroke="#231f20" stroke-width="1" />
<line x1="318" y1="250" x2="318" y2="264" stroke="#231f20" stroke-width="0.9" />
<line x1="316.7" y1="250" x2="319.3" y2="250" stroke="#231f20" stroke-width="0.9" />
<line x1="316.7" y1="264" x2="319.3" y2="264" stroke="#231f20" stroke-width="0.9" />
<circle cx="318" cy="267.6" r="1.6" fill="#fff" stroke="none" stroke-width="0"/>
<circle cx="317.8" cy="250" r="1.9" fill="none" stroke="#4c5467" stroke-width="1.0"/>
<line x1="324.6" y1="239.93" x2="324.6" y2="244.32" stroke="#231f20" stroke-width="0.9" />
<line x1="323.3" y1="239.93" x2="325.9" y2="239.93" stroke="#231f20" stroke-width="0.9" />
<line x1="323.3" y1="244.32" x2="325.9" y2="244.32" stroke="#231f20" stroke-width="0.9" />
<circle cx="324.6" cy="241" r="1.6" fill="#fff" stroke="none" stroke-width="0"/>
<circle cx="324.4" cy="237.6" r="1.9" fill="none" stroke="#c4c2c8" stroke-width="1.0"/>
<line x1="333.9" y1="250.88" x2="333.9" y2="257.88" stroke="#231f20" stroke-width="0.9" />
<line x1="332.6" y1="250.88" x2="335.2" y2="250.88" stroke="#231f20" stroke-width="0.9" />
<line x1="332.6" y1="257.88" x2="335.2" y2="257.88" stroke="#231f20" stroke-width="0.9" />
<circle cx="333.9" cy="254" r="1.6" fill="#fff" stroke="none" stroke-width="0"/>
<circle cx="333.9" cy="258.6" r="1.6" fill="#fff" stroke="none" stroke-width="0"/>
<circle cx="333.7" cy="248.4" r="1.9" fill="none" stroke="#2e4b7f" stroke-width="1.0"/>
<line x1="340.5" y1="248.25" x2="340.5" y2="255.25" stroke="#231f20" stroke-width="0.9" />
<line x1="339.2" y1="248.25" x2="341.8" y2="248.25" stroke="#231f20" stroke-width="0.9" />
<line x1="339.2" y1="255.25" x2="341.8" y2="255.25" stroke="#231f20" stroke-width="0.9" />
<circle cx="340.5" cy="254" r="1.6" fill="#fff" stroke="none" stroke-width="0"/>
<circle cx="340.3" cy="245.6" r="1.9" fill="none" stroke="#a20226" stroke-width="1.0"/>
<circle cx="340.9" cy="249.6" r="1.9" fill="none" stroke="#a20226" stroke-width="1.0"/>
<line x1="347.1" y1="248.38" x2="347.1" y2="260.38" stroke="#231f20" stroke-width="0.9" />
<line x1="345.8" y1="248.38" x2="348.4" y2="248.38" stroke="#231f20" stroke-width="0.9" />
<line x1="345.8" y1="260.38" x2="348.4" y2="260.38" stroke="#231f20" stroke-width="0.9" />
<circle cx="347.1" cy="266" r="1.6" fill="#fff" stroke="none" stroke-width="0"/>
<circle cx="346.9" cy="247" r="1.9" fill="none" stroke="#68a441" stroke-width="1.0"/>
<line x1="356.55" y1="240.19" x2="356.55" y2="250.19" stroke="#231f20" stroke-width="0.9" />
<line x1="355.25" y1="240.19" x2="357.85" y2="240.19" stroke="#231f20" stroke-width="0.9" />
<line x1="355.25" y1="250.19" x2="357.85" y2="250.19" stroke="#231f20" stroke-width="0.9" />
<circle cx="356.55" cy="256.2" r="1.6" fill="#fff" stroke="none" stroke-width="0"/>
<circle cx="356.35" cy="236.9" r="1.9" fill="none" stroke="#2e4b7f" stroke-width="1.0"/>
<circle cx="356.95" cy="241.7" r="1.9" fill="none" stroke="#2e4b7f" stroke-width="1.0"/>
<line x1="363.15" y1="241.94" x2="363.15" y2="251.94" stroke="#231f20" stroke-width="0.9" />
<line x1="361.85" y1="241.94" x2="364.45" y2="241.94" stroke="#231f20" stroke-width="0.9" />
<line x1="361.85" y1="251.94" x2="364.45" y2="251.94" stroke="#231f20" stroke-width="0.9" />
<circle cx="363.15" cy="260" r="1.6" fill="#fff" stroke="none" stroke-width="0"/>
<circle cx="362.95" cy="241.7" r="1.9" fill="none" stroke="#a20226" stroke-width="1.0"/>
<circle cx="363.55" cy="243.7" r="1.9" fill="none" stroke="#a20226" stroke-width="1.0"/>
<line x1="369.75" y1="241.91" x2="369.75" y2="246.71" stroke="#231f20" stroke-width="0.9" />
<line x1="368.45" y1="241.91" x2="371.05" y2="241.91" stroke="#231f20" stroke-width="0.9" />
<line x1="368.45" y1="246.71" x2="371.05" y2="246.71" stroke="#231f20" stroke-width="0.9" />
<circle cx="369.75" cy="247.5" r="1.6" fill="#fff" stroke="none" stroke-width="0"/>
<circle cx="369.55" cy="239.8" r="1.9" fill="none" stroke="#68a441" stroke-width="1.0"/>
<circle cx="370.15" cy="241.7" r="1.9" fill="none" stroke="#68a441" stroke-width="1.0"/>
<line x1="379.2" y1="215.31" x2="379.2" y2="224.31" stroke="#231f20" stroke-width="0.9" />
<line x1="377.9" y1="215.31" x2="380.5" y2="215.31" stroke="#231f20" stroke-width="0.9" />
<line x1="377.9" y1="224.31" x2="380.5" y2="224.31" stroke="#231f20" stroke-width="0.9" />
<circle cx="379.2" cy="225.8" r="1.6" fill="#fff" stroke="none" stroke-width="0"/>
<circle cx="379" cy="211.5" r="1.9" fill="none" stroke="#2e4b7f" stroke-width="1.0"/>
<circle cx="379.6" cy="216.7" r="1.9" fill="none" stroke="#2e4b7f" stroke-width="1.0"/>
<line x1="385.8" y1="228.44" x2="385.8" y2="237.44" stroke="#231f20" stroke-width="0.9" />
<line x1="384.5" y1="228.44" x2="387.1" y2="228.44" stroke="#231f20" stroke-width="0.9" />
<line x1="384.5" y1="237.44" x2="387.1" y2="237.44" stroke="#231f20" stroke-width="0.9" />
<circle cx="385.8" cy="241.2" r="1.6" fill="#fff" stroke="none" stroke-width="0"/>
<circle cx="385.6" cy="225" r="1.9" fill="none" stroke="#a20226" stroke-width="1.0"/>
<circle cx="386.2" cy="230.2" r="1.9" fill="none" stroke="#a20226" stroke-width="1.0"/>
<line x1="392.4" y1="237.92" x2="392.4" y2="243.53" stroke="#231f20" stroke-width="0.9" />
<line x1="391.1" y1="237.92" x2="393.7" y2="237.92" stroke="#231f20" stroke-width="0.9" />
<line x1="391.1" y1="243.53" x2="393.7" y2="243.53" stroke="#231f20" stroke-width="0.9" />
<circle cx="392.4" cy="243.7" r="1.6" fill="#fff" stroke="none" stroke-width="0"/>
<circle cx="392.2" cy="236.9" r="1.9" fill="none" stroke="#68a441" stroke-width="1.0"/>
<circle cx="392.8" cy="239.8" r="1.9" fill="none" stroke="#68a441" stroke-width="1.0"/>
<line x1="401.9" y1="208.45" x2="401.9" y2="218.05" stroke="#231f20" stroke-width="0.9" />
<line x1="400.6" y1="208.45" x2="403.2" y2="208.45" stroke="#231f20" stroke-width="0.9" />
<line x1="400.6" y1="218.05" x2="403.2" y2="218.05" stroke="#231f20" stroke-width="0.9" />
<circle cx="401.9" cy="225.8" r="1.6" fill="#fff" stroke="none" stroke-width="0"/>
<circle cx="401.7" cy="208" r="1.9" fill="none" stroke="#2e4b7f" stroke-width="1.0"/>
<circle cx="402.3" cy="210" r="1.9" fill="none" stroke="#2e4b7f" stroke-width="1.0"/>
<line x1="408.5" y1="208.05" x2="408.5" y2="218.45" stroke="#231f20" stroke-width="0.9" />
<line x1="407.2" y1="208.05" x2="409.8" y2="208.05" stroke="#231f20" stroke-width="0.9" />
<line x1="407.2" y1="218.45" x2="409.8" y2="218.45" stroke="#231f20" stroke-width="0.9" />
<circle cx="408.5" cy="226.3" r="1.6" fill="#fff" stroke="none" stroke-width="0"/>
<circle cx="408.3" cy="207.7" r="1.9" fill="none" stroke="#a20226" stroke-width="1.0"/>
<circle cx="408.9" cy="210" r="1.9" fill="none" stroke="#a20226" stroke-width="1.0"/>
<line x1="415.1" y1="213.22" x2="415.1" y2="222.03" stroke="#231f20" stroke-width="0.9" />
<line x1="413.8" y1="213.22" x2="416.4" y2="213.22" stroke="#231f20" stroke-width="0.9" />
<line x1="413.8" y1="222.03" x2="416.4" y2="222.03" stroke="#231f20" stroke-width="0.9" />
<circle cx="415.1" cy="225.4" r="1.6" fill="#fff" stroke="none" stroke-width="0"/>
<circle cx="414.9" cy="213.5" r="1.9" fill="none" stroke="#68a441" stroke-width="1.0"/>
<circle cx="415.5" cy="215.8" r="1.9" fill="none" stroke="#68a441" stroke-width="1.0"/>
<line x1="424.55" y1="207.38" x2="424.55" y2="217.38" stroke="#231f20" stroke-width="0.9" />
<line x1="423.25" y1="207.38" x2="425.85" y2="207.38" stroke="#231f20" stroke-width="0.9" />
<line x1="423.25" y1="217.38" x2="425.85" y2="217.38" stroke="#231f20" stroke-width="0.9" />
<circle cx="424.55" cy="225.4" r="1.6" fill="#fff" stroke="none" stroke-width="0"/>
<circle cx="424.35" cy="205.2" r="1.9" fill="none" stroke="#2e4b7f" stroke-width="1.0"/>
<circle cx="424.95" cy="209.6" r="1.9" fill="none" stroke="#2e4b7f" stroke-width="1.0"/>
<line x1="431.15" y1="207.81" x2="431.15" y2="217.81" stroke="#231f20" stroke-width="0.9" />
<line x1="429.85" y1="207.81" x2="432.45" y2="207.81" stroke="#231f20" stroke-width="0.9" />
<line x1="429.85" y1="217.81" x2="432.45" y2="217.81" stroke="#231f20" stroke-width="0.9" />
<circle cx="431.15" cy="229.2" r="1.6" fill="#fff" stroke="none" stroke-width="0"/>
<circle cx="430.95" cy="205.8" r="1.9" fill="none" stroke="#a20226" stroke-width="1.0"/>
<circle cx="431.55" cy="208" r="1.9" fill="none" stroke="#a20226" stroke-width="1.0"/>
<line x1="437.75" y1="205.35" x2="437.75" y2="211.35" stroke="#231f20" stroke-width="0.9" />
<line x1="436.45" y1="205.35" x2="439.05" y2="205.35" stroke="#231f20" stroke-width="0.9" />
<line x1="436.45" y1="211.35" x2="439.05" y2="211.35" stroke="#231f20" stroke-width="0.9" />
<circle cx="437.75" cy="214.8" r="1.6" fill="#fff" stroke="none" stroke-width="0"/>
<circle cx="437.55" cy="205.2" r="1.9" fill="none" stroke="#68a441" stroke-width="1.0"/>
<circle cx="438.15" cy="207.7" r="1.9" fill="none" stroke="#68a441" stroke-width="1.0"/>
<circle cx="379.2" cy="202.7" r="0.95" fill="#231f20" stroke="none" stroke-width="0"/>
<circle cx="379.2" cy="205.8" r="0.95" fill="#231f20" stroke="none" stroke-width="0"/>
<circle cx="401.9" cy="198.8" r="0.95" fill="#231f20" stroke="none" stroke-width="0"/>
<circle cx="401.9" cy="202.3" r="0.95" fill="#231f20" stroke="none" stroke-width="0"/>
<circle cx="408.5" cy="198.8" r="0.95" fill="#231f20" stroke="none" stroke-width="0"/>
<circle cx="408.5" cy="202.3" r="0.95" fill="#231f20" stroke="none" stroke-width="0"/>
<circle cx="415.1" cy="201.3" r="0.95" fill="#231f20" stroke="none" stroke-width="0"/>
<circle cx="415.1" cy="204.8" r="0.95" fill="#231f20" stroke="none" stroke-width="0"/>
<circle cx="415.1" cy="208.5" r="0.95" fill="#231f20" stroke="none" stroke-width="0"/>
<circle cx="424.55" cy="196.5" r="0.95" fill="#231f20" stroke="none" stroke-width="0"/>
<circle cx="424.55" cy="199.4" r="0.95" fill="#231f20" stroke="none" stroke-width="0"/>
<circle cx="431.15" cy="196.5" r="0.95" fill="#231f20" stroke="none" stroke-width="0"/>
<circle cx="431.15" cy="199.4" r="0.95" fill="#231f20" stroke="none" stroke-width="0"/>
<circle cx="437.75" cy="189.8" r="0.95" fill="#231f20" stroke="none" stroke-width="0"/>
<circle cx="437.75" cy="193" r="0.95" fill="#231f20" stroke="none" stroke-width="0"/>
<circle cx="437.75" cy="196.2" r="0.95" fill="#231f20" stroke="none" stroke-width="0"/>
<circle cx="437.75" cy="199" r="0.95" fill="#231f20" stroke="none" stroke-width="0"/>
<line x1="312.2" y1="199.8" x2="312.2" y2="289.1" stroke="#231f20" stroke-width="1.2" />
<line x1="308.6" y1="288.5" x2="312.2" y2="288.5" stroke="#231f20" stroke-width="1" />
<text x="305.6" y="291.45" font-size="8.2" text-anchor="end" fill="#231f20" font-weight="normal" stroke="#231f20" stroke-width="0.18" >0</text>
<line x1="308.6" y1="271" x2="312.2" y2="271" stroke="#231f20" stroke-width="1" />
<text x="305.6" y="273.95" font-size="8.2" text-anchor="end" fill="#231f20" font-weight="normal" stroke="#231f20" stroke-width="0.18" >20</text>
<line x1="308.6" y1="253.5" x2="312.2" y2="253.5" stroke="#231f20" stroke-width="1" />
<text x="305.6" y="256.45" font-size="8.2" text-anchor="end" fill="#231f20" font-weight="normal" stroke="#231f20" stroke-width="0.18" >40</text>
<line x1="308.6" y1="236" x2="312.2" y2="236" stroke="#231f20" stroke-width="1" />
<text x="305.6" y="238.95" font-size="8.2" text-anchor="end" fill="#231f20" font-weight="normal" stroke="#231f20" stroke-width="0.18" >60</text>
<line x1="308.6" y1="218.5" x2="312.2" y2="218.5" stroke="#231f20" stroke-width="1" />
<text x="305.6" y="221.45" font-size="8.2" text-anchor="end" fill="#231f20" font-weight="normal" stroke="#231f20" stroke-width="0.18" >80</text>
<line x1="308.6" y1="201" x2="312.2" y2="201" stroke="#231f20" stroke-width="1" />
<text x="305.6" y="203.95" font-size="8.2" text-anchor="end" fill="#231f20" font-weight="normal" stroke="#231f20" stroke-width="0.18" >100</text>
<line x1="312.2" y1="288.5" x2="442.7" y2="288.5" stroke="#231f20" stroke-width="1.2" />
<text transform="translate(324.2,298.4) rotate(-45)" font-size="8.1" text-anchor="end" fill="#231f20" stroke="#231f20" stroke-width="0.18">No inhibitor</text>
<text transform="translate(343.4,298.4) rotate(-45)" font-size="8.1" text-anchor="end" fill="#231f20" stroke="#231f20" stroke-width="0.18">1000 nM</text>
<text transform="translate(366.05,298.4) rotate(-45)" font-size="8.1" text-anchor="end" fill="#231f20" stroke="#231f20" stroke-width="0.18">10 nM</text>
<text transform="translate(388.7,298.4) rotate(-45)" font-size="8.1" text-anchor="end" fill="#231f20" stroke="#231f20" stroke-width="0.18">100 nM</text>
<text transform="translate(411.4,298.4) rotate(-45)" font-size="8.1" text-anchor="end" fill="#231f20" stroke="#231f20" stroke-width="0.18">500 nM</text>
<text transform="translate(434.05,298.4) rotate(-45)" font-size="8.1" text-anchor="end" fill="#231f20" stroke="#231f20" stroke-width="0.18">1000 nM</text>
<text transform="translate(350.4,304.4) rotate(-45)" font-size="8.1" text-anchor="end" fill="#231f20" stroke="#231f20" stroke-width="0.18">inhibitor</text>
<line x1="350.2" y1="332.5" x2="437.7" y2="332.5" stroke="#231f20" stroke-width="1" />
<text x="394.3" y="342.7" font-size="8" text-anchor="middle" fill="#231f20" font-weight="normal" stroke="#231f20" stroke-width="0.18" >+ Bir 200 nM</text>
<rect x="447.4" y="201.2" width="10.9" height="6.3" fill="#4c5467" />
<text x="461.4" y="207" font-size="8.2" text-anchor="start" fill="#231f20" font-weight="normal" stroke="#231f20" stroke-width="0.18" >Control</text>
<rect x="447.4" y="213.55" width="10.9" height="6.3" fill="#c4c2c8" />
<text x="461.4" y="219.35" font-size="8.2" text-anchor="start" fill="#231f20" font-weight="normal" stroke="#231f20" stroke-width="0.18" >Bir 200 nM</text>
<rect x="447.4" y="225.9" width="10.9" height="6.3" fill="#2e4b7f" />
<text x="461.4" y="231.7" font-size="8.2" text-anchor="start" fill="#231f20" font-weight="normal" stroke="#231f20" stroke-width="0.18" >Tari</text>
<rect x="447.4" y="238.25" width="10.9" height="6.3" fill="#a20226" />
<text x="461.4" y="244.05" font-size="8.2" text-anchor="start" fill="#231f20" font-weight="normal" stroke="#231f20" stroke-width="0.18" >Zosu</text>
<rect x="447.4" y="250.6" width="10.9" height="6.3" fill="#68a441" />
<text x="461.4" y="256.4" font-size="8.2" text-anchor="start" fill="#231f20" font-weight="normal" stroke="#231f20" stroke-width="0.18" >Res</text>
<text x="8.2" y="363" font-size="12" text-anchor="start" fill="#000" font-weight="bold" >E</text>
<text x="46" y="364.4" font-size="8" text-anchor="start" fill="#231f20" font-weight="normal" stroke="#231f20" stroke-width="0.18" >HoxA9/Meis1</text>
<text transform="translate(19,424) rotate(-90) scale(0.765,1)" font-size="9.4" text-anchor="middle" fill="#231f20" stroke="#231f20" stroke-width="0.25">% cell death (PI<tspan font-size="6.6" dy="-3.2">+</tspan><tspan dy="3.2">)</tspan></text>
<line x1="45.6" y1="379.2" x2="45.6" y2="468.6" stroke="#231f20" stroke-width="1.2" />
<line x1="42" y1="468" x2="45.6" y2="468" stroke="#231f20" stroke-width="1" />
<text x="39" y="470.95" font-size="8.2" text-anchor="end" fill="#231f20" font-weight="normal" stroke="#231f20" stroke-width="0.18" >0</text>
<line x1="42" y1="450.52" x2="45.6" y2="450.52" stroke="#231f20" stroke-width="1" />
<text x="39" y="453.47" font-size="8.2" text-anchor="end" fill="#231f20" font-weight="normal" stroke="#231f20" stroke-width="0.18" >20</text>
<line x1="42" y1="433.04" x2="45.6" y2="433.04" stroke="#231f20" stroke-width="1" />
<text x="39" y="435.99" font-size="8.2" text-anchor="end" fill="#231f20" font-weight="normal" stroke="#231f20" stroke-width="0.18" >40</text>
<line x1="42" y1="415.56" x2="45.6" y2="415.56" stroke="#231f20" stroke-width="1" />
<text x="39" y="418.51" font-size="8.2" text-anchor="end" fill="#231f20" font-weight="normal" stroke="#231f20" stroke-width="0.18" >60</text>
<line x1="42" y1="398.08" x2="45.6" y2="398.08" stroke="#231f20" stroke-width="1" />
<text x="39" y="401.03" font-size="8.2" text-anchor="end" fill="#231f20" font-weight="normal" stroke="#231f20" stroke-width="0.18" >80</text>
<line x1="42" y1="380.6" x2="45.6" y2="380.6" stroke="#231f20" stroke-width="1" />
<text x="39" y="383.55" font-size="8.2" text-anchor="end" fill="#231f20" font-weight="normal" stroke="#231f20" stroke-width="0.18" >100</text>
<line x1="42.6" y1="468" x2="178.6" y2="468" stroke="#4a4a4a" stroke-width="1.7" />
<line x1="45.6" y1="468" x2="45.6" y2="471" stroke="#231f20" stroke-width="1" />
<text x="45.6" y="481.6" font-size="8" text-anchor="middle" fill="#231f20" font-weight="normal" stroke="#231f20" stroke-width="0.18" >0</text>
<line x1="111.6" y1="468" x2="111.6" y2="471" stroke="#231f20" stroke-width="1" />
<text x="111.6" y="481.6" font-size="8" text-anchor="middle" fill="#231f20" font-weight="normal" stroke="#231f20" stroke-width="0.18" >500</text>
<line x1="177.6" y1="468" x2="177.6" y2="471" stroke="#231f20" stroke-width="1" />
<text x="177.6" y="481.6" font-size="8" text-anchor="middle" fill="#231f20" font-weight="normal" stroke="#231f20" stroke-width="0.18" >1000</text>
<text transform="translate(113.4,495) scale(0.72,1)" font-size="9.6" text-anchor="middle" fill="#231f20" stroke="#231f20" stroke-width="0.6">AT-406 (nM)</text>
<polyline points="45.6,461.53 62.1,459.96 78.6,456.2 111.6,427.1 177.6,401.84" fill="none" stroke="#a20226" stroke-width="1.0"/>
<rect x="43.25" y="459.18" width="4.7" height="4.7" fill="#a20226" />
<rect x="59.75" y="457.61" width="4.7" height="4.7" fill="#a20226" />
<rect x="76.25" y="453.85" width="4.7" height="4.7" fill="#a20226" />
<g stroke="#a20226" stroke-width="1">
<line x1="111.6" y1="415.12" x2="111.6" y2="439.07"/>
<line x1="109.4" y1="415.12" x2="113.8" y2="415.12"/>
<line x1="109.4" y1="439.07" x2="113.8" y2="439.07"/>
</g>
<rect x="109.25" y="424.75" width="4.7" height="4.7" fill="#a20226" />
<g stroke="#a20226" stroke-width="1">
<line x1="177.6" y1="393.1" x2="177.6" y2="410.58"/>
<line x1="175.4" y1="393.1" x2="179.8" y2="393.1"/>
<line x1="175.4" y1="410.58" x2="179.8" y2="410.58"/>
</g>
<rect x="175.25" y="399.49" width="4.7" height="4.7" fill="#a20226" />
<polyline points="45.6,461.53 62.1,461.79 78.6,461.18 111.6,461.18 177.6,459.43" fill="none" stroke="#4a69a9" stroke-width="1.0"/>
<circle cx="45.6" cy="461.53" r="2.5" fill="#2e4b7f" stroke="none" stroke-width="0"/>
<circle cx="62.1" cy="461.79" r="2.5" fill="#2e4b7f" stroke="none" stroke-width="0"/>
<circle cx="78.6" cy="461.18" r="2.5" fill="#2e4b7f" stroke="none" stroke-width="0"/>
<circle cx="111.6" cy="461.18" r="2.5" fill="#2e4b7f" stroke="none" stroke-width="0"/>
<circle cx="177.6" cy="459.43" r="2.5" fill="#2e4b7f" stroke="none" stroke-width="0"/>
<text x="111.6" y="412.5" font-size="7.4" text-anchor="middle" fill="#231f20" font-weight="normal" stroke="#231f20" stroke-width="0.18" >n.s</text>
<text x="177.6" y="390.65" font-size="7.2" text-anchor="middle" fill="#231f20" font-weight="normal" stroke="#231f20" stroke-width="0.18" >**</text>
<line x1="45.4" y1="372.1" x2="55.4" y2="372.1" stroke="#2e4b7f" stroke-width="1.1" />
<circle cx="50.5" cy="372.1" r="2.2" fill="#2e4b7f" stroke="none" stroke-width="0"/>
<text x="58.8" y="375" font-size="8" text-anchor="start" fill="#231f20" font-weight="normal" stroke="#231f20" stroke-width="0.18" >AT</text>
<line x1="76.2" y1="372.1" x2="86.7" y2="372.1" stroke="#a20226" stroke-width="1.1" />
<rect x="79.1" y="370" width="4.2" height="4.2" fill="#a20226" />
<text x="89.5" y="375" font-size="8" text-anchor="start" fill="#231f20" font-weight="normal" stroke="#231f20" stroke-width="0.18" >AT + Tari 1 µM</text>
<text x="274.8" y="363" font-size="12" text-anchor="start" fill="#000" font-weight="bold" >F</text>
<text x="312.7" y="364.4" font-size="8" text-anchor="start" fill="#231f20" font-weight="normal" stroke="#231f20" stroke-width="0.18" >HoxA9/Meis1</text>
<text transform="translate(285.6,424) rotate(-90) scale(0.765,1)" font-size="9.4" text-anchor="middle" fill="#231f20" stroke="#231f20" stroke-width="0.25">% cell death (PI<tspan font-size="6.6" dy="-3.2">+</tspan><tspan dy="3.2">)</tspan></text>
<line x1="312.2" y1="379.2" x2="312.2" y2="468.6" stroke="#231f20" stroke-width="1.2" />
<line x1="308.6" y1="468" x2="312.2" y2="468" stroke="#231f20" stroke-width="1" />
<text x="305.6" y="470.95" font-size="8.2" text-anchor="end" fill="#231f20" font-weight="normal" stroke="#231f20" stroke-width="0.18" >0</text>
<line x1="308.6" y1="450.52" x2="312.2" y2="450.52" stroke="#231f20" stroke-width="1" />
<text x="305.6" y="453.47" font-size="8.2" text-anchor="end" fill="#231f20" font-weight="normal" stroke="#231f20" stroke-width="0.18" >20</text>
<line x1="308.6" y1="433.04" x2="312.2" y2="433.04" stroke="#231f20" stroke-width="1" />
<text x="305.6" y="435.99" font-size="8.2" text-anchor="end" fill="#231f20" font-weight="normal" stroke="#231f20" stroke-width="0.18" >40</text>
<line x1="308.6" y1="415.56" x2="312.2" y2="415.56" stroke="#231f20" stroke-width="1" />
<text x="305.6" y="418.51" font-size="8.2" text-anchor="end" fill="#231f20" font-weight="normal" stroke="#231f20" stroke-width="0.18" >60</text>
<line x1="308.6" y1="398.08" x2="312.2" y2="398.08" stroke="#231f20" stroke-width="1" />
<text x="305.6" y="401.03" font-size="8.2" text-anchor="end" fill="#231f20" font-weight="normal" stroke="#231f20" stroke-width="0.18" >80</text>
<line x1="308.6" y1="380.6" x2="312.2" y2="380.6" stroke="#231f20" stroke-width="1" />
<text x="305.6" y="383.55" font-size="8.2" text-anchor="end" fill="#231f20" font-weight="normal" stroke="#231f20" stroke-width="0.18" >100</text>
<line x1="309.2" y1="468" x2="445.2" y2="468" stroke="#4a4a4a" stroke-width="1.7" />
<line x1="312.2" y1="468" x2="312.2" y2="471" stroke="#231f20" stroke-width="1" />
<text x="312.2" y="481.6" font-size="8" text-anchor="middle" fill="#231f20" font-weight="normal" stroke="#231f20" stroke-width="0.18" >0</text>
<line x1="377.6" y1="468" x2="377.6" y2="471" stroke="#231f20" stroke-width="1" />
<text x="377.6" y="481.6" font-size="8" text-anchor="middle" fill="#231f20" font-weight="normal" stroke="#231f20" stroke-width="0.18" >500</text>
<line x1="443" y1="468" x2="443" y2="471" stroke="#231f20" stroke-width="1" />
<text x="443" y="481.6" font-size="8" text-anchor="middle" fill="#231f20" font-weight="normal" stroke="#231f20" stroke-width="0.18" >1000</text>
<text transform="translate(380,495) scale(0.72,1)" font-size="9.6" text-anchor="middle" fill="#231f20" stroke="#231f20" stroke-width="0.6">AEG-40730 (nM)</text>
<polyline points="312.2,461.53 328.55,459.87 344.9,456.9 377.6,414.69 443,385.84" fill="none" stroke="#a20226" stroke-width="1.0"/>
<rect x="309.85" y="459.18" width="4.7" height="4.7" fill="#a20226" />
<rect x="326.2" y="457.52" width="4.7" height="4.7" fill="#a20226" />
<rect x="342.55" y="454.55" width="4.7" height="4.7" fill="#a20226" />
<g stroke="#a20226" stroke-width="1">
<line x1="377.6" y1="405.25" x2="377.6" y2="424.13"/>
<line x1="375.4" y1="405.25" x2="379.8" y2="405.25"/>
<line x1="375.4" y1="424.13" x2="379.8" y2="424.13"/>
</g>
<rect x="375.25" y="412.34" width="4.7" height="4.7" fill="#a20226" />
<rect x="440.65" y="383.49" width="4.7" height="4.7" fill="#a20226" />
<polyline points="312.2,461.53 328.55,461.53 344.9,461.53 377.6,460.31 443,423.43" fill="none" stroke="#4a69a9" stroke-width="1.0"/>
<circle cx="312.2" cy="461.53" r="2.5" fill="#2e4b7f" stroke="none" stroke-width="0"/>
<circle cx="328.55" cy="461.53" r="2.5" fill="#2e4b7f" stroke="none" stroke-width="0"/>
<circle cx="344.9" cy="461.53" r="2.5" fill="#2e4b7f" stroke="none" stroke-width="0"/>
<circle cx="377.6" cy="460.31" r="2.5" fill="#2e4b7f" stroke="none" stroke-width="0"/>
<g stroke="#2e4b7f" stroke-width="1">
<line x1="443" y1="417.31" x2="443" y2="429.54"/>
<line x1="440.8" y1="417.31" x2="445.2" y2="417.31"/>
<line x1="440.8" y1="429.54" x2="445.2" y2="429.54"/>
</g>
<circle cx="443" cy="423.43" r="2.5" fill="#2e4b7f" stroke="none" stroke-width="0"/>
<text x="377.6" y="405.95" font-size="7.2" text-anchor="middle" fill="#231f20" font-weight="normal" stroke="#231f20" stroke-width="0.18" >**</text>
<text x="443" y="385.14" font-size="7.2" text-anchor="middle" fill="#231f20" font-weight="normal" stroke="#231f20" stroke-width="0.18" >**</text>
<line x1="312.6" y1="372.1" x2="322" y2="372.1" stroke="#2e4b7f" stroke-width="1.1" />
<circle cx="317.4" cy="372.1" r="2.2" fill="#2e4b7f" stroke="none" stroke-width="0"/>
<text x="326" y="375" font-size="8" text-anchor="start" fill="#231f20" font-weight="normal" stroke="#231f20" stroke-width="0.18" >AEG</text>
<line x1="352.4" y1="372.1" x2="362.9" y2="372.1" stroke="#a20226" stroke-width="1.1" />
<rect x="355.3" y="370" width="4.2" height="4.2" fill="#a20226" />
<text x="365.7" y="375" font-size="8" text-anchor="start" fill="#231f20" font-weight="normal" stroke="#231f20" stroke-width="0.18" >AEG + Tari 1 µM</text>
<text x="8" y="513.7" font-size="12" text-anchor="start" fill="#000" font-weight="bold" >G</text>
<text x="46" y="528.6" font-size="8" text-anchor="start" fill="#231f20" font-weight="normal" stroke="#231f20" stroke-width="0.18" >HoxA9/Meis1</text>
<text transform="translate(19,575) rotate(-90) scale(0.765,1)" font-size="9.4" text-anchor="middle" fill="#231f20" stroke="#231f20" stroke-width="0.25">% cell death (PI<tspan font-size="6.6" dy="-3.2">+</tspan><tspan dy="3.2">)</tspan></text>
<line x1="45.6" y1="534" x2="45.6" y2="615.9" stroke="#231f20" stroke-width="1.2" />
<line x1="42" y1="615.3" x2="45.6" y2="615.3" stroke="#231f20" stroke-width="1" />
<text x="39" y="618.25" font-size="8.2" text-anchor="end" fill="#231f20" font-weight="normal" stroke="#231f20" stroke-width="0.18" >0</text>
<line x1="42" y1="599.32" x2="45.6" y2="599.32" stroke="#231f20" stroke-width="1" />
<text x="39" y="602.27" font-size="8.2" text-anchor="end" fill="#231f20" font-weight="normal" stroke="#231f20" stroke-width="0.18" >20</text>
<line x1="42" y1="583.34" x2="45.6" y2="583.34" stroke="#231f20" stroke-width="1" />
<text x="39" y="586.29" font-size="8.2" text-anchor="end" fill="#231f20" font-weight="normal" stroke="#231f20" stroke-width="0.18" >40</text>
<line x1="42" y1="567.36" x2="45.6" y2="567.36" stroke="#231f20" stroke-width="1" />
<text x="39" y="570.31" font-size="8.2" text-anchor="end" fill="#231f20" font-weight="normal" stroke="#231f20" stroke-width="0.18" >60</text>
<line x1="42" y1="551.38" x2="45.6" y2="551.38" stroke="#231f20" stroke-width="1" />
<text x="39" y="554.33" font-size="8.2" text-anchor="end" fill="#231f20" font-weight="normal" stroke="#231f20" stroke-width="0.18" >80</text>
<line x1="42" y1="535.4" x2="45.6" y2="535.4" stroke="#231f20" stroke-width="1" />
<text x="39" y="538.35" font-size="8.2" text-anchor="end" fill="#231f20" font-weight="normal" stroke="#231f20" stroke-width="0.18" >100</text>
<line x1="42.6" y1="615.3" x2="165" y2="615.3" stroke="#4a4a4a" stroke-width="1.7" />
<line x1="45.6" y1="615.3" x2="45.6" y2="618.3" stroke="#231f20" stroke-width="1" />
<text x="45.6" y="628.4" font-size="8" text-anchor="middle" fill="#231f20" font-weight="normal" stroke="#231f20" stroke-width="0.18" >0</text>
<line x1="100.1" y1="615.3" x2="100.1" y2="618.3" stroke="#231f20" stroke-width="1" />
<text x="100.1" y="628.4" font-size="8" text-anchor="middle" fill="#231f20" font-weight="normal" stroke="#231f20" stroke-width="0.18" >500</text>
<line x1="154.6" y1="615.3" x2="154.6" y2="618.3" stroke="#231f20" stroke-width="1" />
<text x="154.6" y="628.4" font-size="8" text-anchor="middle" fill="#231f20" font-weight="normal" stroke="#231f20" stroke-width="0.18" >1000</text>
<text transform="translate(105.1,642.7) scale(0.72,1)" font-size="9.6" text-anchor="middle" fill="#231f20" stroke="#231f20" stroke-width="0.6">Drug concentration (nM)</text>
<g stroke="#e48d14" stroke-width="1">
<line x1="45.6" y1="602.04" x2="45.6" y2="605.87"/>
<line x1="43.2" y1="602.04" x2="48" y2="602.04"/>
<line x1="43.2" y1="605.87" x2="48" y2="605.87"/>
<line x1="56.5" y1="597.32" x2="56.5" y2="605.31"/>
<line x1="54.1" y1="597.32" x2="58.9" y2="597.32"/>
<line x1="54.1" y1="605.31" x2="58.9" y2="605.31"/>
<line x1="154.6" y1="588.13" x2="154.6" y2="603.79"/>
<line x1="152.2" y1="588.13" x2="157" y2="588.13"/>
<line x1="152.2" y1="603.79" x2="157" y2="603.79"/>
</g>
<g stroke="#8a7cc4" stroke-width="1">
<line x1="45.6" y1="602.36" x2="45.6" y2="606.19"/>
<line x1="43.2" y1="602.36" x2="48" y2="602.36"/>
<line x1="43.2" y1="606.19" x2="48" y2="606.19"/>
<line x1="56.5" y1="598.92" x2="56.5" y2="606.51"/>
<line x1="54.1" y1="598.92" x2="58.9" y2="598.92"/>
<line x1="54.1" y1="606.51" x2="58.9" y2="606.51"/>
<line x1="154.6" y1="591.25" x2="154.6" y2="606.19"/>
<line x1="152.2" y1="591.25" x2="157" y2="591.25"/>
<line x1="152.2" y1="606.19" x2="157" y2="606.19"/>
</g>
<g stroke="#5ba6e0" stroke-width="1">
<line x1="45.6" y1="603.08" x2="45.6" y2="607.07"/>
<line x1="43.2" y1="603.08" x2="48" y2="603.08"/>
<line x1="43.2" y1="607.07" x2="48" y2="607.07"/>
<line x1="56.5" y1="600.04" x2="56.5" y2="607.63"/>
<line x1="54.1" y1="600.04" x2="58.9" y2="600.04"/>
<line x1="54.1" y1="607.63" x2="58.9" y2="607.63"/>
<line x1="154.6" y1="594.21" x2="154.6" y2="606.19"/>
<line x1="152.2" y1="594.21" x2="157" y2="594.21"/>
<line x1="152.2" y1="606.19" x2="157" y2="606.19"/>
</g>
<polyline points="45.6,603.95 56.5,602.12 154.6,596.6" fill="none" stroke="#e48d14" stroke-width="1.2"/>
<polyline points="45.6,604.27 56.5,602.52 154.6,598.36" fill="none" stroke="#8a7cc4" stroke-width="1.2"/>
<polyline points="45.6,604.67 56.5,602.84 154.6,599.88" fill="none" stroke="#5ba6e0" stroke-width="1.2"/>
<circle cx="45.6" cy="603.95" r="2.3" fill="#e48d14" stroke="none" stroke-width="0"/>
<circle cx="56.5" cy="602.12" r="2.3" fill="#e48d14" stroke="none" stroke-width="0"/>
<circle cx="154.6" cy="596.6" r="2.3" fill="#e48d14" stroke="none" stroke-width="0"/>
<path d="M45.6,602.18 L47.14,604.27 L45.6,606.36 L44.06,604.27 Z" fill="#8a7cc4"/>
<path d="M56.5,600.43 L58.04,602.52 L56.5,604.61 L54.96,602.52 Z" fill="#8a7cc4"/>
<path d="M154.6,596.27 L156.14,598.36 L154.6,600.45 L153.06,598.36 Z" fill="#8a7cc4"/>
<path d="M45.6,607.09 L48.02,602.69 L43.18,602.69 Z" fill="#5ba6e0"/>
<path d="M56.5,605.26 L58.92,600.86 L54.08,600.86 Z" fill="#5ba6e0"/>
<path d="M154.6,602.3 L157.02,597.9 L152.18,597.9 Z" fill="#5ba6e0"/>
<g stroke="#2e4b7f" stroke-width="1">
<line x1="100.1" y1="585.74" x2="100.1" y2="600.52"/>
<line x1="97.7" y1="585.74" x2="102.5" y2="585.74"/>
</g>
<circle cx="100.1" cy="593.73" r="2.3" fill="#2e4b7f" stroke="none" stroke-width="0"/>
<rect x="97.8" y="535.9" width="4.6" height="4.6" fill="#a20226" />
<path d="M100.1,537.33 L102.24,541.23 L97.95,541.23 Z" fill="#68a441"/>
<line x1="165.9" y1="535.2" x2="175.3" y2="535.2" stroke="#2e4b7f" stroke-width="1.2" />
<circle cx="170.6" cy="535.2" r="2.1" fill="#2e4b7f" stroke="none" stroke-width="0"/>
<text x="178.6" y="538.15" font-size="8.2" text-anchor="start" fill="#231f20" font-weight="normal" stroke="#231f20" stroke-width="0.18" >Bir</text>
<line x1="165.9" y1="544.82" x2="175.3" y2="544.82" stroke="#a20226" stroke-width="1.2" />
<rect x="168.2" y="542.42" width="4.8" height="4.8" fill="#a20226" />
<text x="178.6" y="547.77" font-size="8.2" text-anchor="start" fill="#231f20" font-weight="normal" stroke="#231f20" stroke-width="0.18" >Bir + Tari 1 µM (**)</text>
<line x1="165.9" y1="554.44" x2="175.3" y2="554.44" stroke="#68a441" stroke-width="1.2" />
<path d="M170.6,552.35 L172.69,556.15 L168.51,556.15 Z" fill="#68a441"/>
<text x="178.6" y="557.39" font-size="8.2" text-anchor="start" fill="#231f20" font-weight="normal" stroke="#231f20" stroke-width="0.18" >Bir + Zosu 1 µM (**)</text>
<line x1="165.9" y1="564.06" x2="175.3" y2="564.06" stroke="#5ba6e0" stroke-width="1.2" />
<path d="M170.6,566.04 L172.58,562.44 L168.62,562.44 Z" fill="#5ba6e0"/>
<text x="178.6" y="567.01" font-size="8.2" text-anchor="start" fill="#231f20" font-weight="normal" stroke="#231f20" stroke-width="0.18" >ABT-199</text>
<line x1="165.9" y1="573.68" x2="175.3" y2="573.68" stroke="#8a7cc4" stroke-width="1.2" />
<path d="M170.6,571.69 L172.07,573.68 L170.6,575.68 L169.13,573.68 Z" fill="#8a7cc4"/>
<text x="178.6" y="576.63" font-size="8.2" text-anchor="start" fill="#231f20" font-weight="normal" stroke="#231f20" stroke-width="0.18" >ABT-199 + Tari 1 µM</text>
<line x1="165.9" y1="583.3" x2="175.3" y2="583.3" stroke="#e48d14" stroke-width="1.2" />
<circle cx="170.6" cy="583.3" r="2.55" fill="#e48d14" stroke="none" stroke-width="0"/>
<text x="178.6" y="586.25" font-size="8.2" text-anchor="start" fill="#231f20" font-weight="normal" stroke="#231f20" stroke-width="0.18" >ABT-199 + Zosu 1 µM</text>
<text x="274.6" y="513.7" font-size="12" text-anchor="start" fill="#000" font-weight="bold" >H</text>
<text x="313.4" y="528.6" font-size="8" text-anchor="start" fill="#231f20" font-weight="normal" stroke="#231f20" stroke-width="0.18" >HoxA9/Meis1</text>
<text transform="translate(285.6,575) rotate(-90) scale(0.765,1)" font-size="9.4" text-anchor="middle" fill="#231f20" stroke="#231f20" stroke-width="0.25">% cell death (PI<tspan font-size="6.6" dy="-3.2">+</tspan><tspan dy="3.2">)</tspan></text>
<line x1="312.5" y1="534" x2="312.5" y2="615.9" stroke="#231f20" stroke-width="1.2" />
<line x1="308.9" y1="615.3" x2="312.5" y2="615.3" stroke="#231f20" stroke-width="1" />
<text x="305.9" y="618.25" font-size="8.2" text-anchor="end" fill="#231f20" font-weight="normal" stroke="#231f20" stroke-width="0.18" >0</text>
<line x1="308.9" y1="599.32" x2="312.5" y2="599.32" stroke="#231f20" stroke-width="1" />
<text x="305.9" y="602.27" font-size="8.2" text-anchor="end" fill="#231f20" font-weight="normal" stroke="#231f20" stroke-width="0.18" >20</text>
<line x1="308.9" y1="583.34" x2="312.5" y2="583.34" stroke="#231f20" stroke-width="1" />
<text x="305.9" y="586.29" font-size="8.2" text-anchor="end" fill="#231f20" font-weight="normal" stroke="#231f20" stroke-width="0.18" >40</text>
<line x1="308.9" y1="567.36" x2="312.5" y2="567.36" stroke="#231f20" stroke-width="1" />
<text x="305.9" y="570.31" font-size="8.2" text-anchor="end" fill="#231f20" font-weight="normal" stroke="#231f20" stroke-width="0.18" >60</text>
<line x1="308.9" y1="551.38" x2="312.5" y2="551.38" stroke="#231f20" stroke-width="1" />
<text x="305.9" y="554.33" font-size="8.2" text-anchor="end" fill="#231f20" font-weight="normal" stroke="#231f20" stroke-width="0.18" >80</text>
<line x1="308.9" y1="535.4" x2="312.5" y2="535.4" stroke="#231f20" stroke-width="1" />
<text x="305.9" y="538.35" font-size="8.2" text-anchor="end" fill="#231f20" font-weight="normal" stroke="#231f20" stroke-width="0.18" >100</text>
<line x1="309.5" y1="615.3" x2="431" y2="615.3" stroke="#4a4a4a" stroke-width="1.7" />
<line x1="312.5" y1="615.3" x2="312.5" y2="618.3" stroke="#231f20" stroke-width="1" />
<text x="312.5" y="628.4" font-size="8" text-anchor="middle" fill="#231f20" font-weight="normal" stroke="#231f20" stroke-width="0.18" >0</text>
<line x1="366.3" y1="615.3" x2="366.3" y2="618.3" stroke="#231f20" stroke-width="1" />
<text x="366.3" y="628.4" font-size="8" text-anchor="middle" fill="#231f20" font-weight="normal" stroke="#231f20" stroke-width="0.18" >500</text>
<line x1="420.1" y1="615.3" x2="420.1" y2="618.3" stroke="#231f20" stroke-width="1" />
<text x="420.1" y="628.4" font-size="8" text-anchor="middle" fill="#231f20" font-weight="normal" stroke="#231f20" stroke-width="0.18" >1000</text>
<text transform="translate(372,642.7) scale(0.72,1)" font-size="9.6" text-anchor="middle" fill="#231f20" stroke="#231f20" stroke-width="0.6">Drug concentration (nM)</text>
<g stroke="#e48d14" stroke-width="1">
<line x1="312.5" y1="601.72" x2="312.5" y2="605.87"/>
<line x1="310.1" y1="601.72" x2="314.9" y2="601.72"/>
<line x1="310.1" y1="605.87" x2="314.9" y2="605.87"/>
<line x1="323.26" y1="598.52" x2="323.26" y2="605.55"/>
<line x1="320.86" y1="598.52" x2="325.66" y2="598.52"/>
<line x1="320.86" y1="605.55" x2="325.66" y2="605.55"/>
<line x1="420.1" y1="591.97" x2="420.1" y2="605.31"/>
<line x1="417.7" y1="591.97" x2="422.5" y2="591.97"/>
<line x1="417.7" y1="605.31" x2="422.5" y2="605.31"/>
</g>
<g stroke="#8a7cc4" stroke-width="1">
<line x1="312.5" y1="602.28" x2="312.5" y2="605.79"/>
<line x1="310.1" y1="602.28" x2="314.9" y2="602.28"/>
<line x1="310.1" y1="605.79" x2="314.9" y2="605.79"/>
<line x1="323.26" y1="599.48" x2="323.26" y2="605.07"/>
<line x1="320.86" y1="599.48" x2="325.66" y2="599.48"/>
<line x1="320.86" y1="605.07" x2="325.66" y2="605.07"/>
<line x1="420.1" y1="592.45" x2="420.1" y2="605.55"/>
<line x1="417.7" y1="592.45" x2="422.5" y2="592.45"/>
<line x1="417.7" y1="605.55" x2="422.5" y2="605.55"/>
</g>
<g stroke="#5ba6e0" stroke-width="1">
<line x1="312.5" y1="602.6" x2="312.5" y2="606.59"/>
<line x1="310.1" y1="602.6" x2="314.9" y2="602.6"/>
<line x1="310.1" y1="606.59" x2="314.9" y2="606.59"/>
<line x1="323.26" y1="600.04" x2="323.26" y2="606.43"/>
<line x1="320.86" y1="600.04" x2="325.66" y2="600.04"/>
<line x1="320.86" y1="606.43" x2="325.66" y2="606.43"/>
<line x1="420.1" y1="592.45" x2="420.1" y2="605.71"/>
<line x1="417.7" y1="592.45" x2="422.5" y2="592.45"/>
<line x1="417.7" y1="605.71" x2="422.5" y2="605.71"/>
</g>
<polyline points="312.5,603.79 323.26,602.04 420.1,598.68" fill="none" stroke="#e48d14" stroke-width="1.2"/>
<polyline points="312.5,604.03 323.26,602.28 420.1,598.84" fill="none" stroke="#8a7cc4" stroke-width="1.2"/>
<polyline points="312.5,604.19 323.26,602.44 420.1,598.92" fill="none" stroke="#5ba6e0" stroke-width="1.2"/>
<circle cx="312.5" cy="603.79" r="2.3" fill="#e48d14" stroke="none" stroke-width="0"/>
<circle cx="323.26" cy="602.04" r="2.3" fill="#e48d14" stroke="none" stroke-width="0"/>
<circle cx="420.1" cy="598.68" r="2.3" fill="#e48d14" stroke="none" stroke-width="0"/>
<path d="M312.5,601.94 L314.04,604.03 L312.5,606.12 L310.96,604.03 Z" fill="#8a7cc4"/>
<path d="M323.26,600.19 L324.8,602.28 L323.26,604.37 L321.72,602.28 Z" fill="#8a7cc4"/>
<path d="M420.1,596.75 L421.64,598.84 L420.1,600.93 L418.56,598.84 Z" fill="#8a7cc4"/>
<path d="M312.5,606.61 L314.92,602.21 L310.08,602.21 Z" fill="#5ba6e0"/>
<path d="M323.26,604.86 L325.68,600.46 L320.84,600.46 Z" fill="#5ba6e0"/>
<path d="M420.1,601.34 L422.52,596.94 L417.68,596.94 Z" fill="#5ba6e0"/>
<g stroke="#2e4b7f" stroke-width="1">
<line x1="366.3" y1="585.74" x2="366.3" y2="600.52"/>
<line x1="363.9" y1="585.74" x2="368.7" y2="585.74"/>
</g>
<circle cx="366.3" cy="593.73" r="2.3" fill="#2e4b7f" stroke="none" stroke-width="0"/>
<rect x="364" y="535.9" width="4.6" height="4.6" fill="#a20226" />
<path d="M366.3,537.33 L368.44,541.23 L364.16,541.23 Z" fill="#68a441"/>
<line x1="427.6" y1="535.2" x2="437" y2="535.2" stroke="#2e4b7f" stroke-width="1.2" />
<circle cx="432.3" cy="535.2" r="2.1" fill="#2e4b7f" stroke="none" stroke-width="0"/>
<text x="440.3" y="538.15" font-size="8.2" text-anchor="start" fill="#231f20" font-weight="normal" stroke="#231f20" stroke-width="0.18" >Bir</text>
<line x1="427.6" y1="544.82" x2="437" y2="544.82" stroke="#a20226" stroke-width="1.2" />
<rect x="429.9" y="542.42" width="4.8" height="4.8" fill="#a20226" />
<text x="440.3" y="547.77" font-size="8.2" text-anchor="start" fill="#231f20" font-weight="normal" stroke="#231f20" stroke-width="0.18" >Bir + Tari 1 µM (**)</text>
<line x1="427.6" y1="554.44" x2="437" y2="554.44" stroke="#68a441" stroke-width="1.2" />
<path d="M432.3,552.35 L434.39,556.15 L430.21,556.15 Z" fill="#68a441"/>
<text x="440.3" y="557.39" font-size="8.2" text-anchor="start" fill="#231f20" font-weight="normal" stroke="#231f20" stroke-width="0.18" >Bir + Zosu 1 µM (**)</text>
<line x1="427.6" y1="564.06" x2="437" y2="564.06" stroke="#5ba6e0" stroke-width="1.2" />
<path d="M432.3,566.04 L434.28,562.44 L430.32,562.44 Z" fill="#5ba6e0"/>
<text x="440.3" y="567.01" font-size="8.2" text-anchor="start" fill="#231f20" font-weight="normal" stroke="#231f20" stroke-width="0.18" >JQ1</text>
<line x1="427.6" y1="573.68" x2="437" y2="573.68" stroke="#8a7cc4" stroke-width="1.2" />
<path d="M432.3,571.69 L433.77,573.68 L432.3,575.68 L430.83,573.68 Z" fill="#8a7cc4"/>
<text x="440.3" y="576.63" font-size="8.2" text-anchor="start" fill="#231f20" font-weight="normal" stroke="#231f20" stroke-width="0.18" >JQ1 + Tari 1 µM</text>
<line x1="427.6" y1="583.3" x2="437" y2="583.3" stroke="#e48d14" stroke-width="1.2" />
<circle cx="432.3" cy="583.3" r="2.55" fill="#e48d14" stroke="none" stroke-width="0"/>
<text x="440.3" y="586.25" font-size="8.2" text-anchor="start" fill="#231f20" font-weight="normal" stroke="#231f20" stroke-width="0.18" >JQ1 + Zosu 1 µM</text>
<rect x="0.75" y="0.75" width="518.5" height="649.5" fill="none" stroke="#050505" stroke-width="1.5"/>
</svg>
</body></html>
